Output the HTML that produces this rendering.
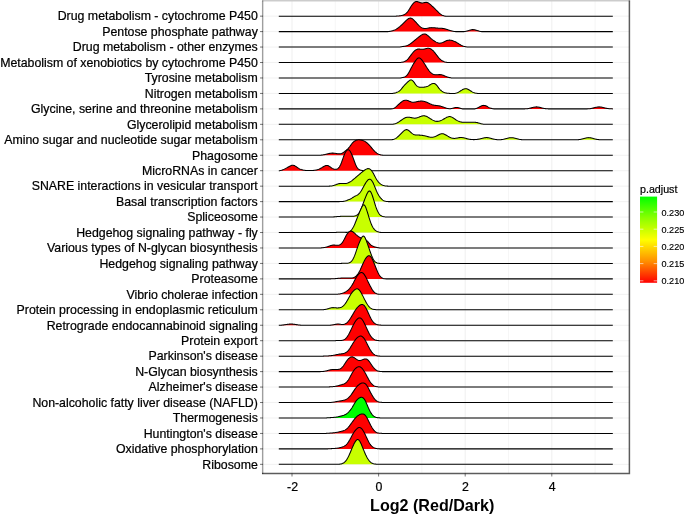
<!DOCTYPE html>
<html><head><meta charset="utf-8"><title>Ridgeplot</title>
<style>html,body{margin:0;padding:0;background:#fff;}body{width:685px;height:516px;overflow:hidden;font-family:"Liberation Sans",sans-serif;}svg{display:block;}</style></head>
<body>
<svg width="685" height="516" viewBox="0 0 685 516" style="will-change:transform">
<rect x="0" y="0" width="685" height="516" fill="#fff"/>
<path d="M263.0 16.15H629.5M263.0 31.6H629.5M263.0 47.06H629.5M263.0 62.52H629.5M263.0 77.97H629.5M263.0 93.43H629.5M263.0 108.88H629.5M263.0 124.34H629.5M263.0 139.79H629.5M263.0 155.25H629.5M263.0 170.7H629.5M263.0 186.16H629.5M263.0 201.61H629.5M263.0 217.06H629.5M263.0 232.52H629.5M263.0 247.97H629.5M263.0 263.43H629.5M263.0 278.88H629.5M263.0 294.34H629.5M263.0 309.79H629.5M263.0 325.25H629.5M263.0 340.7H629.5M263.0 356.16H629.5M263.0 371.61H629.5M263.0 387.07H629.5M263.0 402.52H629.5M263.0 417.98H629.5M263.0 433.44H629.5M263.0 448.89H629.5M263.0 464.34H629.5" stroke="#EBEBEB" stroke-width="0.7" fill="none"/>
<path d="M292 1.5V473.5M378.6 1.5V473.5M465.2 1.5V473.5M551.8 1.5V473.5" stroke="#EBEBEB" stroke-width="0.8" fill="none"/>
<path d="M335.3 1.5V473.5M421.9 1.5V473.5M508.5 1.5V473.5M595.1 1.5V473.5" stroke="#EBEBEB" stroke-width="0.45" fill="none"/>
<defs><filter id="bl" x="-2%" y="-2%" width="104%" height="104%"><feGaussianBlur stdDeviation="0.4"/></filter></defs>
<g filter="url(#bl)">
<path d="M278.8 16.15L278.8 16.15 395.8 16.15 396.3 16.12 396.8 16.08 397.3 16.04 397.8 16 398.3 15.95 398.8 15.91 399.3 15.87 399.8 15.81 400.3 15.75 400.8 15.68 401.3 15.59 401.8 15.47 402.3 15.33 402.8 15.17 403.3 14.97 403.8 14.76 404.3 14.51 404.8 14.23 405.3 13.92 405.8 13.56 406.3 13.14 406.8 12.66 407.3 12.1 407.8 11.47 408.3 10.78 408.8 10.03 409.3 9.25 409.8 8.44 410.3 7.64 410.8 6.83 411.3 6.06 411.8 5.31 412.3 4.61 412.8 3.96 413.3 3.37 413.8 2.86 414.3 2.42 414.8 2.07 415.3 1.81 415.8 1.64 416.3 1.55 416.8 1.55 417.3 1.62 417.8 1.74 418.3 1.91 418.8 2.09 419.3 2.28 419.8 2.46 420.3 2.63 420.8 2.76 421.3 2.87 421.8 2.93 422.3 2.95 422.8 2.92 423.3 2.84 423.8 2.74 424.3 2.62 424.8 2.5 425.3 2.4 425.8 2.35 426.3 2.35 426.8 2.42 427.3 2.55 427.8 2.75 428.3 3.01 428.8 3.32 429.3 3.67 429.8 4.05 430.3 4.46 430.8 4.89 431.3 5.33 431.8 5.79 432.3 6.27 432.8 6.75 433.3 7.24 433.8 7.74 434.3 8.24 434.8 8.74 435.3 9.24 435.8 9.75 436.3 10.24 436.8 10.74 437.3 11.23 437.8 11.71 438.3 12.18 438.8 12.63 439.3 13.08 439.8 13.5 440.3 13.9 440.8 14.28 441.3 14.62 441.8 14.93 442.3 15.19 442.8 15.42 443.3 15.61 443.8 15.77 444.3 15.91 444.8 16.03 445.3 16.13 445.8 16.15 612.8 16.15L612.8 16.15Z" fill="#FF0000"/>
<path d="M278.8 16.15 395.8 16.15 396.3 16.12 396.8 16.08 397.3 16.04 397.8 16 398.3 15.95 398.8 15.91 399.3 15.87 399.8 15.81 400.3 15.75 400.8 15.68 401.3 15.59 401.8 15.47 402.3 15.33 402.8 15.17 403.3 14.97 403.8 14.76 404.3 14.51 404.8 14.23 405.3 13.92 405.8 13.56 406.3 13.14 406.8 12.66 407.3 12.1 407.8 11.47 408.3 10.78 408.8 10.03 409.3 9.25 409.8 8.44 410.3 7.64 410.8 6.83 411.3 6.06 411.8 5.31 412.3 4.61 412.8 3.96 413.3 3.37 413.8 2.86 414.3 2.42 414.8 2.07 415.3 1.81 415.8 1.64 416.3 1.55 416.8 1.55 417.3 1.62 417.8 1.74 418.3 1.91 418.8 2.09 419.3 2.28 419.8 2.46 420.3 2.63 420.8 2.76 421.3 2.87 421.8 2.93 422.3 2.95 422.8 2.92 423.3 2.84 423.8 2.74 424.3 2.62 424.8 2.5 425.3 2.4 425.8 2.35 426.3 2.35 426.8 2.42 427.3 2.55 427.8 2.75 428.3 3.01 428.8 3.32 429.3 3.67 429.8 4.05 430.3 4.46 430.8 4.89 431.3 5.33 431.8 5.79 432.3 6.27 432.8 6.75 433.3 7.24 433.8 7.74 434.3 8.24 434.8 8.74 435.3 9.24 435.8 9.75 436.3 10.24 436.8 10.74 437.3 11.23 437.8 11.71 438.3 12.18 438.8 12.63 439.3 13.08 439.8 13.5 440.3 13.9 440.8 14.28 441.3 14.62 441.8 14.93 442.3 15.19 442.8 15.42 443.3 15.61 443.8 15.77 444.3 15.91 444.8 16.03 445.3 16.13 445.8 16.15 612.8 16.15" fill="none" stroke="#000" stroke-width="1.05" stroke-linejoin="round"/>
<path d="M278.8 31.6L278.8 31.6 388.3 31.6 388.8 31.55 389.3 31.47 389.8 31.38 390.3 31.29 390.8 31.2 391.3 31.09 391.8 30.97 392.3 30.83 392.8 30.68 393.3 30.52 393.8 30.33 394.3 30.13 394.8 29.9 395.3 29.66 395.8 29.39 396.3 29.1 396.8 28.79 397.3 28.47 397.8 28.12 398.3 27.76 398.8 27.38 399.3 26.98 399.8 26.57 400.3 26.14 400.8 25.7 401.3 25.24 401.8 24.78 402.3 24.3 402.8 23.81 403.3 23.32 403.8 22.82 404.3 22.32 404.8 21.83 405.3 21.34 405.8 20.86 406.3 20.39 406.8 19.95 407.3 19.53 407.8 19.14 408.3 18.8 408.8 18.52 409.3 18.3 409.8 18.16 410.3 18.11 410.8 18.14 411.3 18.27 411.8 18.48 412.3 18.77 412.8 19.13 413.3 19.54 413.8 20 414.3 20.5 414.8 21.03 415.3 21.57 415.8 22.13 416.3 22.7 416.8 23.27 417.3 23.83 417.8 24.37 418.3 24.9 418.8 25.4 419.3 25.87 419.8 26.31 420.3 26.71 420.8 27.07 421.3 27.4 421.8 27.68 422.3 27.92 422.8 28.12 423.3 28.28 423.8 28.39 424.3 28.45 424.8 28.49 425.3 28.48 425.8 28.45 426.3 28.4 426.8 28.33 427.3 28.24 427.8 28.15 428.3 28.05 428.8 27.95 429.3 27.86 429.8 27.78 430.3 27.72 430.8 27.67 431.3 27.65 431.8 27.64 432.3 27.65 432.8 27.67 433.3 27.7 433.8 27.74 434.3 27.79 434.8 27.84 435.3 27.89 435.8 27.95 436.3 28 436.8 28.05 437.3 28.09 437.8 28.13 438.3 28.16 438.8 28.19 439.3 28.21 439.8 28.23 440.3 28.25 440.8 28.27 441.3 28.3 441.8 28.34 442.3 28.38 442.8 28.43 443.3 28.5 443.8 28.59 444.3 28.69 444.8 28.8 445.3 28.94 445.8 29.08 446.3 29.24 446.8 29.41 447.3 29.58 447.8 29.76 448.3 29.93 448.8 30.1 449.3 30.27 449.8 30.43 450.3 30.58 450.8 30.72 451.3 30.85 451.8 30.98 452.3 31.1 452.8 31.21 453.3 31.31 453.8 31.41 454.3 31.49 454.8 31.58 455.3 31.6 464.3 31.6 464.8 31.53 465.3 31.43 465.8 31.31 466.3 31.19 466.8 31.06 467.3 30.92 467.8 30.78 468.3 30.63 468.8 30.48 469.3 30.33 469.8 30.18 470.3 30.04 470.8 29.91 471.3 29.79 471.8 29.7 472.3 29.64 472.8 29.61 473.3 29.63 473.8 29.67 474.3 29.75 474.8 29.86 475.3 29.99 475.8 30.13 476.3 30.27 476.8 30.42 477.3 30.57 477.8 30.72 478.3 30.86 478.8 31.01 479.3 31.15 479.8 31.3 480.3 31.44 480.8 31.58 481.3 31.6 612.8 31.6L612.8 31.6Z" fill="#FF0000"/>
<path d="M278.8 31.6 388.3 31.6 388.8 31.55 389.3 31.47 389.8 31.38 390.3 31.29 390.8 31.2 391.3 31.09 391.8 30.97 392.3 30.83 392.8 30.68 393.3 30.52 393.8 30.33 394.3 30.13 394.8 29.9 395.3 29.66 395.8 29.39 396.3 29.1 396.8 28.79 397.3 28.47 397.8 28.12 398.3 27.76 398.8 27.38 399.3 26.98 399.8 26.57 400.3 26.14 400.8 25.7 401.3 25.24 401.8 24.78 402.3 24.3 402.8 23.81 403.3 23.32 403.8 22.82 404.3 22.32 404.8 21.83 405.3 21.34 405.8 20.86 406.3 20.39 406.8 19.95 407.3 19.53 407.8 19.14 408.3 18.8 408.8 18.52 409.3 18.3 409.8 18.16 410.3 18.11 410.8 18.14 411.3 18.27 411.8 18.48 412.3 18.77 412.8 19.13 413.3 19.54 413.8 20 414.3 20.5 414.8 21.03 415.3 21.57 415.8 22.13 416.3 22.7 416.8 23.27 417.3 23.83 417.8 24.37 418.3 24.9 418.8 25.4 419.3 25.87 419.8 26.31 420.3 26.71 420.8 27.07 421.3 27.4 421.8 27.68 422.3 27.92 422.8 28.12 423.3 28.28 423.8 28.39 424.3 28.45 424.8 28.49 425.3 28.48 425.8 28.45 426.3 28.4 426.8 28.33 427.3 28.24 427.8 28.15 428.3 28.05 428.8 27.95 429.3 27.86 429.8 27.78 430.3 27.72 430.8 27.67 431.3 27.65 431.8 27.64 432.3 27.65 432.8 27.67 433.3 27.7 433.8 27.74 434.3 27.79 434.8 27.84 435.3 27.89 435.8 27.95 436.3 28 436.8 28.05 437.3 28.09 437.8 28.13 438.3 28.16 438.8 28.19 439.3 28.21 439.8 28.23 440.3 28.25 440.8 28.27 441.3 28.3 441.8 28.34 442.3 28.38 442.8 28.43 443.3 28.5 443.8 28.59 444.3 28.69 444.8 28.8 445.3 28.94 445.8 29.08 446.3 29.24 446.8 29.41 447.3 29.58 447.8 29.76 448.3 29.93 448.8 30.1 449.3 30.27 449.8 30.43 450.3 30.58 450.8 30.72 451.3 30.85 451.8 30.98 452.3 31.1 452.8 31.21 453.3 31.31 453.8 31.41 454.3 31.49 454.8 31.58 455.3 31.6 464.3 31.6 464.8 31.53 465.3 31.43 465.8 31.31 466.3 31.19 466.8 31.06 467.3 30.92 467.8 30.78 468.3 30.63 468.8 30.48 469.3 30.33 469.8 30.18 470.3 30.04 470.8 29.91 471.3 29.79 471.8 29.7 472.3 29.64 472.8 29.61 473.3 29.63 473.8 29.67 474.3 29.75 474.8 29.86 475.3 29.99 475.8 30.13 476.3 30.27 476.8 30.42 477.3 30.57 477.8 30.72 478.3 30.86 478.8 31.01 479.3 31.15 479.8 31.3 480.3 31.44 480.8 31.58 481.3 31.6 612.8 31.6" fill="none" stroke="#000" stroke-width="1.05" stroke-linejoin="round"/>
<path d="M278.8 47.06L278.8 47.06 399.3 47.06 399.8 46.99 400.3 46.9 400.8 46.82 401.3 46.74 401.8 46.66 402.3 46.58 402.8 46.5 403.3 46.43 403.8 46.36 404.3 46.28 404.8 46.19 405.3 46.09 405.8 45.97 406.3 45.83 406.8 45.67 407.3 45.48 407.8 45.26 408.3 45.02 408.8 44.75 409.3 44.45 409.8 44.14 410.3 43.81 410.8 43.46 411.3 43.09 411.8 42.71 412.3 42.32 412.8 41.92 413.3 41.52 413.8 41.11 414.3 40.69 414.8 40.28 415.3 39.86 415.8 39.45 416.3 39.03 416.8 38.62 417.3 38.21 417.8 37.8 418.3 37.4 418.8 37.01 419.3 36.61 419.8 36.23 420.3 35.86 420.8 35.5 421.3 35.16 421.8 34.85 422.3 34.58 422.8 34.35 423.3 34.17 423.8 34.04 424.3 33.99 424.8 34 425.3 34.1 425.8 34.26 426.3 34.51 426.8 34.81 427.3 35.17 427.8 35.57 428.3 36 428.8 36.46 429.3 36.93 429.8 37.4 430.3 37.86 430.8 38.31 431.3 38.74 431.8 39.15 432.3 39.55 432.8 39.93 433.3 40.29 433.8 40.63 434.3 40.96 434.8 41.28 435.3 41.58 435.8 41.87 436.3 42.14 436.8 42.39 437.3 42.61 437.8 42.8 438.3 42.95 438.8 43.06 439.3 43.13 439.8 43.15 440.3 43.13 440.8 43.06 441.3 42.94 441.8 42.8 442.3 42.62 442.8 42.42 443.3 42.19 443.8 41.96 444.3 41.72 444.8 41.48 445.3 41.24 445.8 41.01 446.3 40.8 446.8 40.61 447.3 40.44 447.8 40.31 448.3 40.21 448.8 40.15 449.3 40.13 449.8 40.14 450.3 40.18 450.8 40.25 451.3 40.35 451.8 40.47 452.3 40.62 452.8 40.78 453.3 40.96 453.8 41.16 454.3 41.37 454.8 41.59 455.3 41.82 455.8 42.07 456.3 42.33 456.8 42.61 457.3 42.9 457.8 43.21 458.3 43.52 458.8 43.84 459.3 44.16 459.8 44.47 460.3 44.77 460.8 45.06 461.3 45.32 461.8 45.56 462.3 45.77 462.8 45.97 463.3 46.14 463.8 46.3 464.3 46.43 464.8 46.55 465.3 46.66 465.8 46.75 466.3 46.84 466.8 46.91 467.3 46.98 467.8 47.05 468.3 47.06 612.8 47.06L612.8 47.06Z" fill="#FF0000"/>
<path d="M278.8 47.06 399.3 47.06 399.8 46.99 400.3 46.9 400.8 46.82 401.3 46.74 401.8 46.66 402.3 46.58 402.8 46.5 403.3 46.43 403.8 46.36 404.3 46.28 404.8 46.19 405.3 46.09 405.8 45.97 406.3 45.83 406.8 45.67 407.3 45.48 407.8 45.26 408.3 45.02 408.8 44.75 409.3 44.45 409.8 44.14 410.3 43.81 410.8 43.46 411.3 43.09 411.8 42.71 412.3 42.32 412.8 41.92 413.3 41.52 413.8 41.11 414.3 40.69 414.8 40.28 415.3 39.86 415.8 39.45 416.3 39.03 416.8 38.62 417.3 38.21 417.8 37.8 418.3 37.4 418.8 37.01 419.3 36.61 419.8 36.23 420.3 35.86 420.8 35.5 421.3 35.16 421.8 34.85 422.3 34.58 422.8 34.35 423.3 34.17 423.8 34.04 424.3 33.99 424.8 34 425.3 34.1 425.8 34.26 426.3 34.51 426.8 34.81 427.3 35.17 427.8 35.57 428.3 36 428.8 36.46 429.3 36.93 429.8 37.4 430.3 37.86 430.8 38.31 431.3 38.74 431.8 39.15 432.3 39.55 432.8 39.93 433.3 40.29 433.8 40.63 434.3 40.96 434.8 41.28 435.3 41.58 435.8 41.87 436.3 42.14 436.8 42.39 437.3 42.61 437.8 42.8 438.3 42.95 438.8 43.06 439.3 43.13 439.8 43.15 440.3 43.13 440.8 43.06 441.3 42.94 441.8 42.8 442.3 42.62 442.8 42.42 443.3 42.19 443.8 41.96 444.3 41.72 444.8 41.48 445.3 41.24 445.8 41.01 446.3 40.8 446.8 40.61 447.3 40.44 447.8 40.31 448.3 40.21 448.8 40.15 449.3 40.13 449.8 40.14 450.3 40.18 450.8 40.25 451.3 40.35 451.8 40.47 452.3 40.62 452.8 40.78 453.3 40.96 453.8 41.16 454.3 41.37 454.8 41.59 455.3 41.82 455.8 42.07 456.3 42.33 456.8 42.61 457.3 42.9 457.8 43.21 458.3 43.52 458.8 43.84 459.3 44.16 459.8 44.47 460.3 44.77 460.8 45.06 461.3 45.32 461.8 45.56 462.3 45.77 462.8 45.97 463.3 46.14 463.8 46.3 464.3 46.43 464.8 46.55 465.3 46.66 465.8 46.75 466.3 46.84 466.8 46.91 467.3 46.98 467.8 47.05 468.3 47.06 612.8 47.06" fill="none" stroke="#000" stroke-width="1.05" stroke-linejoin="round"/>
<path d="M278.8 62.52L278.8 62.52 400.3 62.52 400.8 62.44 401.3 62.35 401.8 62.25 402.3 62.14 402.8 62.02 403.3 61.89 403.8 61.73 404.3 61.55 404.8 61.34 405.3 61.1 405.8 60.8 406.3 60.46 406.8 60.07 407.3 59.62 407.8 59.11 408.3 58.56 408.8 57.96 409.3 57.33 409.8 56.68 410.3 56.01 410.8 55.34 411.3 54.67 411.8 54.02 412.3 53.38 412.8 52.77 413.3 52.19 413.8 51.65 414.3 51.15 414.8 50.69 415.3 50.28 415.8 49.93 416.3 49.63 416.8 49.4 417.3 49.23 417.8 49.12 418.3 49.07 418.8 49.05 419.3 49.07 419.8 49.12 420.3 49.17 420.8 49.23 421.3 49.28 421.8 49.3 422.3 49.3 422.8 49.27 423.3 49.21 423.8 49.12 424.3 49.01 424.8 48.89 425.3 48.77 425.8 48.64 426.3 48.53 426.8 48.43 427.3 48.35 427.8 48.31 428.3 48.3 428.8 48.34 429.3 48.42 429.8 48.56 430.3 48.75 430.8 49 431.3 49.3 431.8 49.65 432.3 50.04 432.8 50.49 433.3 50.98 433.8 51.51 434.3 52.08 434.8 52.68 435.3 53.31 435.8 53.96 436.3 54.61 436.8 55.27 437.3 55.92 437.8 56.55 438.3 57.16 438.8 57.74 439.3 58.28 439.8 58.79 440.3 59.26 440.8 59.69 441.3 60.09 441.8 60.46 442.3 60.79 442.8 61.09 443.3 61.35 443.8 61.58 444.3 61.78 444.8 61.94 445.3 62.08 445.8 62.2 446.3 62.29 446.8 62.37 447.3 62.44 447.8 62.51 612.8 62.52L612.8 62.52Z" fill="#FF0000"/>
<path d="M278.8 62.52 400.3 62.52 400.8 62.44 401.3 62.35 401.8 62.25 402.3 62.14 402.8 62.02 403.3 61.89 403.8 61.73 404.3 61.55 404.8 61.34 405.3 61.1 405.8 60.8 406.3 60.46 406.8 60.07 407.3 59.62 407.8 59.11 408.3 58.56 408.8 57.96 409.3 57.33 409.8 56.68 410.3 56.01 410.8 55.34 411.3 54.67 411.8 54.02 412.3 53.38 412.8 52.77 413.3 52.19 413.8 51.65 414.3 51.15 414.8 50.69 415.3 50.28 415.8 49.93 416.3 49.63 416.8 49.4 417.3 49.23 417.8 49.12 418.3 49.07 418.8 49.05 419.3 49.07 419.8 49.12 420.3 49.17 420.8 49.23 421.3 49.28 421.8 49.3 422.3 49.3 422.8 49.27 423.3 49.21 423.8 49.12 424.3 49.01 424.8 48.89 425.3 48.77 425.8 48.64 426.3 48.53 426.8 48.43 427.3 48.35 427.8 48.31 428.3 48.3 428.8 48.34 429.3 48.42 429.8 48.56 430.3 48.75 430.8 49 431.3 49.3 431.8 49.65 432.3 50.04 432.8 50.49 433.3 50.98 433.8 51.51 434.3 52.08 434.8 52.68 435.3 53.31 435.8 53.96 436.3 54.61 436.8 55.27 437.3 55.92 437.8 56.55 438.3 57.16 438.8 57.74 439.3 58.28 439.8 58.79 440.3 59.26 440.8 59.69 441.3 60.09 441.8 60.46 442.3 60.79 442.8 61.09 443.3 61.35 443.8 61.58 444.3 61.78 444.8 61.94 445.3 62.08 445.8 62.2 446.3 62.29 446.8 62.37 447.3 62.44 447.8 62.51 612.8 62.52" fill="none" stroke="#000" stroke-width="1.05" stroke-linejoin="round"/>
<path d="M278.8 77.97L278.8 77.97 400.3 77.97 400.8 77.89 401.3 77.79 401.8 77.7 402.3 77.6 402.8 77.49 403.3 77.38 403.8 77.25 404.3 77.08 404.8 76.88 405.3 76.62 405.8 76.29 406.3 75.89 406.8 75.39 407.3 74.81 407.8 74.13 408.3 73.37 408.8 72.53 409.3 71.64 409.8 70.71 410.3 69.75 410.8 68.79 411.3 67.82 411.8 66.88 412.3 65.96 412.8 65.07 413.3 64.22 413.8 63.39 414.3 62.6 414.8 61.84 415.3 61.1 415.8 60.4 416.3 59.75 416.8 59.16 417.3 58.66 417.8 58.27 418.3 58.01 418.8 57.9 419.3 57.93 419.8 58.11 420.3 58.42 420.8 58.84 421.3 59.35 421.8 59.93 422.3 60.57 422.8 61.25 423.3 61.97 423.8 62.72 424.3 63.5 424.8 64.29 425.3 65.08 425.8 65.88 426.3 66.67 426.8 67.46 427.3 68.22 427.8 68.96 428.3 69.67 428.8 70.34 429.3 70.97 429.8 71.55 430.3 72.08 430.8 72.57 431.3 73 431.8 73.38 432.3 73.72 432.8 74.01 433.3 74.24 433.8 74.43 434.3 74.58 434.8 74.68 435.3 74.74 435.8 74.77 436.3 74.77 436.8 74.76 437.3 74.73 437.8 74.69 438.3 74.66 438.8 74.62 439.3 74.6 439.8 74.6 440.3 74.62 440.8 74.66 441.3 74.74 441.8 74.85 442.3 74.99 442.8 75.15 443.3 75.33 443.8 75.53 444.3 75.74 444.8 75.95 445.3 76.16 445.8 76.37 446.3 76.58 446.8 76.77 447.3 76.94 447.8 77.1 448.3 77.25 448.8 77.39 449.3 77.51 449.8 77.63 450.3 77.74 450.8 77.85 451.3 77.95 451.8 77.97 612.8 77.97L612.8 77.97Z" fill="#FF0000"/>
<path d="M278.8 77.97 400.3 77.97 400.8 77.89 401.3 77.79 401.8 77.7 402.3 77.6 402.8 77.49 403.3 77.38 403.8 77.25 404.3 77.08 404.8 76.88 405.3 76.62 405.8 76.29 406.3 75.89 406.8 75.39 407.3 74.81 407.8 74.13 408.3 73.37 408.8 72.53 409.3 71.64 409.8 70.71 410.3 69.75 410.8 68.79 411.3 67.82 411.8 66.88 412.3 65.96 412.8 65.07 413.3 64.22 413.8 63.39 414.3 62.6 414.8 61.84 415.3 61.1 415.8 60.4 416.3 59.75 416.8 59.16 417.3 58.66 417.8 58.27 418.3 58.01 418.8 57.9 419.3 57.93 419.8 58.11 420.3 58.42 420.8 58.84 421.3 59.35 421.8 59.93 422.3 60.57 422.8 61.25 423.3 61.97 423.8 62.72 424.3 63.5 424.8 64.29 425.3 65.08 425.8 65.88 426.3 66.67 426.8 67.46 427.3 68.22 427.8 68.96 428.3 69.67 428.8 70.34 429.3 70.97 429.8 71.55 430.3 72.08 430.8 72.57 431.3 73 431.8 73.38 432.3 73.72 432.8 74.01 433.3 74.24 433.8 74.43 434.3 74.58 434.8 74.68 435.3 74.74 435.8 74.77 436.3 74.77 436.8 74.76 437.3 74.73 437.8 74.69 438.3 74.66 438.8 74.62 439.3 74.6 439.8 74.6 440.3 74.62 440.8 74.66 441.3 74.74 441.8 74.85 442.3 74.99 442.8 75.15 443.3 75.33 443.8 75.53 444.3 75.74 444.8 75.95 445.3 76.16 445.8 76.37 446.3 76.58 446.8 76.77 447.3 76.94 447.8 77.1 448.3 77.25 448.8 77.39 449.3 77.51 449.8 77.63 450.3 77.74 450.8 77.85 451.3 77.95 451.8 77.97 612.8 77.97" fill="none" stroke="#000" stroke-width="1.05" stroke-linejoin="round"/>
<path d="M278.8 93.43L278.8 93.43 391.8 93.43 392.3 93.4 392.8 93.36 393.3 93.3 393.8 93.23 394.3 93.14 394.8 93.02 395.3 92.89 395.8 92.73 396.3 92.55 396.8 92.35 397.3 92.14 397.8 91.91 398.3 91.64 398.8 91.34 399.3 90.99 399.8 90.58 400.3 90.12 400.8 89.6 401.3 89.03 401.8 88.43 402.3 87.81 402.8 87.2 403.3 86.59 403.8 86.01 404.3 85.46 404.8 84.93 405.3 84.42 405.8 83.92 406.3 83.42 406.8 82.93 407.3 82.44 407.8 81.97 408.3 81.5 408.8 81.06 409.3 80.67 409.8 80.34 410.3 80.09 410.8 79.96 411.3 79.96 411.8 80.1 412.3 80.38 412.8 80.79 413.3 81.32 413.8 81.95 414.3 82.64 414.8 83.37 415.3 84.09 415.8 84.77 416.3 85.38 416.8 85.9 417.3 86.32 417.8 86.64 418.3 86.87 418.8 87.03 419.3 87.14 419.8 87.2 420.3 87.23 420.8 87.23 421.3 87.23 421.8 87.23 422.3 87.22 422.8 87.21 423.3 87.19 423.8 87.16 424.3 87.11 424.8 87.05 425.3 86.97 425.8 86.86 426.3 86.73 426.8 86.58 427.3 86.39 427.8 86.17 428.3 85.91 428.8 85.63 429.3 85.32 429.8 85 430.3 84.68 430.8 84.38 431.3 84.09 431.8 83.85 432.3 83.64 432.8 83.5 433.3 83.42 433.8 83.42 434.3 83.51 434.8 83.69 435.3 83.98 435.8 84.36 436.3 84.84 436.8 85.41 437.3 86.05 437.8 86.72 438.3 87.4 438.8 88.06 439.3 88.68 439.8 89.26 440.3 89.78 440.8 90.26 441.3 90.69 441.8 91.09 442.3 91.44 442.8 91.75 443.3 92.03 443.8 92.27 444.3 92.49 444.8 92.67 445.3 92.82 445.8 92.95 446.3 93.05 446.8 93.14 447.3 93.21 447.8 93.26 448.3 93.31 448.8 93.34 449.3 93.37 449.8 93.4 450.3 93.43 454.3 93.43 454.8 93.41 455.3 93.32 455.8 93.21 456.3 93.06 456.8 92.88 457.3 92.67 457.8 92.44 458.3 92.19 458.8 91.92 459.3 91.63 459.8 91.33 460.3 91.03 460.8 90.72 461.3 90.42 461.8 90.12 462.3 89.83 462.8 89.56 463.3 89.32 463.8 89.11 464.3 88.94 464.8 88.81 465.3 88.74 465.8 88.72 466.3 88.76 466.8 88.86 467.3 89.02 467.8 89.22 468.3 89.47 468.8 89.75 469.3 90.05 469.8 90.36 470.3 90.69 470.8 91.01 471.3 91.32 471.8 91.62 472.3 91.9 472.8 92.16 473.3 92.4 473.8 92.61 474.3 92.8 474.8 92.96 475.3 93.1 475.8 93.2 476.3 93.28 476.8 93.34 477.3 93.38 477.8 93.4 478.3 93.42 612.8 93.43L612.8 93.43Z" fill="#C8FF00"/>
<path d="M278.8 93.43 391.8 93.43 392.3 93.4 392.8 93.36 393.3 93.3 393.8 93.23 394.3 93.14 394.8 93.02 395.3 92.89 395.8 92.73 396.3 92.55 396.8 92.35 397.3 92.14 397.8 91.91 398.3 91.64 398.8 91.34 399.3 90.99 399.8 90.58 400.3 90.12 400.8 89.6 401.3 89.03 401.8 88.43 402.3 87.81 402.8 87.2 403.3 86.59 403.8 86.01 404.3 85.46 404.8 84.93 405.3 84.42 405.8 83.92 406.3 83.42 406.8 82.93 407.3 82.44 407.8 81.97 408.3 81.5 408.8 81.06 409.3 80.67 409.8 80.34 410.3 80.09 410.8 79.96 411.3 79.96 411.8 80.1 412.3 80.38 412.8 80.79 413.3 81.32 413.8 81.95 414.3 82.64 414.8 83.37 415.3 84.09 415.8 84.77 416.3 85.38 416.8 85.9 417.3 86.32 417.8 86.64 418.3 86.87 418.8 87.03 419.3 87.14 419.8 87.2 420.3 87.23 420.8 87.23 421.3 87.23 421.8 87.23 422.3 87.22 422.8 87.21 423.3 87.19 423.8 87.16 424.3 87.11 424.8 87.05 425.3 86.97 425.8 86.86 426.3 86.73 426.8 86.58 427.3 86.39 427.8 86.17 428.3 85.91 428.8 85.63 429.3 85.32 429.8 85 430.3 84.68 430.8 84.38 431.3 84.09 431.8 83.85 432.3 83.64 432.8 83.5 433.3 83.42 433.8 83.42 434.3 83.51 434.8 83.69 435.3 83.98 435.8 84.36 436.3 84.84 436.8 85.41 437.3 86.05 437.8 86.72 438.3 87.4 438.8 88.06 439.3 88.68 439.8 89.26 440.3 89.78 440.8 90.26 441.3 90.69 441.8 91.09 442.3 91.44 442.8 91.75 443.3 92.03 443.8 92.27 444.3 92.49 444.8 92.67 445.3 92.82 445.8 92.95 446.3 93.05 446.8 93.14 447.3 93.21 447.8 93.26 448.3 93.31 448.8 93.34 449.3 93.37 449.8 93.4 450.3 93.43 454.3 93.43 454.8 93.41 455.3 93.32 455.8 93.21 456.3 93.06 456.8 92.88 457.3 92.67 457.8 92.44 458.3 92.19 458.8 91.92 459.3 91.63 459.8 91.33 460.3 91.03 460.8 90.72 461.3 90.42 461.8 90.12 462.3 89.83 462.8 89.56 463.3 89.32 463.8 89.11 464.3 88.94 464.8 88.81 465.3 88.74 465.8 88.72 466.3 88.76 466.8 88.86 467.3 89.02 467.8 89.22 468.3 89.47 468.8 89.75 469.3 90.05 469.8 90.36 470.3 90.69 470.8 91.01 471.3 91.32 471.8 91.62 472.3 91.9 472.8 92.16 473.3 92.4 473.8 92.61 474.3 92.8 474.8 92.96 475.3 93.1 475.8 93.2 476.3 93.28 476.8 93.34 477.3 93.38 477.8 93.4 478.3 93.42 612.8 93.43" fill="none" stroke="#000" stroke-width="1.05" stroke-linejoin="round"/>
<path d="M278.8 108.88L278.8 108.88 390.8 108.88 391.3 108.86 391.8 108.82 392.3 108.76 392.8 108.65 393.3 108.5 393.8 108.3 394.3 108.04 394.8 107.72 395.3 107.36 395.8 106.97 396.3 106.55 396.8 106.1 397.3 105.65 397.8 105.18 398.3 104.71 398.8 104.25 399.3 103.78 399.8 103.33 400.3 102.89 400.8 102.48 401.3 102.08 401.8 101.71 402.3 101.38 402.8 101.07 403.3 100.81 403.8 100.59 404.3 100.41 404.8 100.28 405.3 100.21 405.8 100.19 406.3 100.22 406.8 100.3 407.3 100.42 407.8 100.58 408.3 100.77 408.8 100.98 409.3 101.19 409.8 101.4 410.3 101.6 410.8 101.79 411.3 101.95 411.8 102.07 412.3 102.16 412.8 102.21 413.3 102.22 413.8 102.2 414.3 102.16 414.8 102.09 415.3 102.01 415.8 101.91 416.3 101.8 416.8 101.69 417.3 101.58 417.8 101.47 418.3 101.37 418.8 101.28 419.3 101.21 419.8 101.15 420.3 101.11 420.8 101.09 421.3 101.08 421.8 101.1 422.3 101.13 422.8 101.18 423.3 101.25 423.8 101.34 424.3 101.44 424.8 101.57 425.3 101.72 425.8 101.88 426.3 102.07 426.8 102.27 427.3 102.49 427.8 102.71 428.3 102.95 428.8 103.19 429.3 103.43 429.8 103.67 430.3 103.9 430.8 104.13 431.3 104.34 431.8 104.54 432.3 104.72 432.8 104.88 433.3 105.01 433.8 105.13 434.3 105.23 434.8 105.31 435.3 105.38 435.8 105.44 436.3 105.49 436.8 105.55 437.3 105.6 437.8 105.66 438.3 105.72 438.8 105.79 439.3 105.88 439.8 105.98 440.3 106.1 440.8 106.24 441.3 106.39 441.8 106.55 442.3 106.73 442.8 106.9 443.3 107.09 443.8 107.27 444.3 107.46 444.8 107.64 445.3 107.81 445.8 107.98 446.3 108.14 446.8 108.28 447.3 108.41 447.8 108.52 448.3 108.6 448.8 108.67 449.3 108.7 449.8 108.71 450.3 108.68 450.8 108.63 451.3 108.54 451.8 108.43 452.3 108.31 452.8 108.17 453.3 108.03 453.8 107.89 454.3 107.77 454.8 107.65 455.3 107.57 455.8 107.51 456.3 107.48 456.8 107.49 457.3 107.53 457.8 107.6 458.3 107.7 458.8 107.82 459.3 107.95 459.8 108.1 460.3 108.25 460.8 108.41 461.3 108.57 461.8 108.72 462.3 108.86 462.8 108.88 474.8 108.88 475.3 108.78 475.8 108.62 476.3 108.45 476.8 108.26 477.3 108.06 477.8 107.83 478.3 107.58 478.8 107.32 479.3 107.03 479.8 106.74 480.3 106.45 480.8 106.18 481.3 105.94 481.8 105.74 482.3 105.58 482.8 105.46 483.3 105.4 483.8 105.38 484.3 105.42 484.8 105.5 485.3 105.63 485.8 105.81 486.3 106.04 486.8 106.29 487.3 106.57 487.8 106.87 488.3 107.15 488.8 107.42 489.3 107.66 489.8 107.88 490.3 108.07 490.8 108.23 491.3 108.37 491.8 108.5 492.3 108.61 492.8 108.7 493.3 108.79 493.8 108.87 494.3 108.88 524.3 108.88 524.8 108.86 525.3 108.83 525.8 108.8 526.3 108.77 526.8 108.73 527.3 108.68 527.8 108.62 528.3 108.54 528.8 108.46 529.3 108.36 529.8 108.25 530.3 108.13 530.8 108 531.3 107.87 531.8 107.74 532.3 107.61 532.8 107.48 533.3 107.36 533.8 107.24 534.3 107.14 534.8 107.05 535.3 106.97 535.8 106.92 536.3 106.89 536.8 106.89 537.3 106.93 537.8 106.98 538.3 107.06 538.8 107.16 539.3 107.26 539.8 107.38 540.3 107.5 540.8 107.63 541.3 107.76 541.8 107.89 542.3 108.02 542.8 108.15 543.3 108.27 543.8 108.38 544.3 108.47 544.8 108.56 545.3 108.63 545.8 108.69 546.3 108.74 546.8 108.78 547.3 108.82 547.8 108.85 548.3 108.88 586.8 108.88 587.3 108.86 587.8 108.84 588.3 108.81 588.8 108.77 589.3 108.73 589.8 108.68 590.3 108.62 590.8 108.54 591.3 108.46 591.8 108.36 592.3 108.25 592.8 108.13 593.3 108 593.8 107.87 594.3 107.74 594.8 107.61 595.3 107.48 595.8 107.35 596.3 107.24 596.8 107.14 597.3 107.05 597.8 106.97 598.3 106.92 598.8 106.89 599.3 106.88 599.8 106.9 600.3 106.94 600.8 107 601.3 107.08 601.8 107.19 602.3 107.3 602.8 107.42 603.3 107.55 603.8 107.68 604.3 107.81 604.8 107.94 605.3 108.06 605.8 108.17 606.3 108.28 606.8 108.37 607.3 108.46 607.8 108.54 608.3 108.6 608.8 108.66 609.3 108.71 609.8 108.75 610.3 108.78 610.8 108.81 611.3 108.83 611.8 108.85 612.3 108.86 612.8 108.87L612.8 108.88Z" fill="#FF0000"/>
<path d="M278.8 108.88 390.8 108.88 391.3 108.86 391.8 108.82 392.3 108.76 392.8 108.65 393.3 108.5 393.8 108.3 394.3 108.04 394.8 107.72 395.3 107.36 395.8 106.97 396.3 106.55 396.8 106.1 397.3 105.65 397.8 105.18 398.3 104.71 398.8 104.25 399.3 103.78 399.8 103.33 400.3 102.89 400.8 102.48 401.3 102.08 401.8 101.71 402.3 101.38 402.8 101.07 403.3 100.81 403.8 100.59 404.3 100.41 404.8 100.28 405.3 100.21 405.8 100.19 406.3 100.22 406.8 100.3 407.3 100.42 407.8 100.58 408.3 100.77 408.8 100.98 409.3 101.19 409.8 101.4 410.3 101.6 410.8 101.79 411.3 101.95 411.8 102.07 412.3 102.16 412.8 102.21 413.3 102.22 413.8 102.2 414.3 102.16 414.8 102.09 415.3 102.01 415.8 101.91 416.3 101.8 416.8 101.69 417.3 101.58 417.8 101.47 418.3 101.37 418.8 101.28 419.3 101.21 419.8 101.15 420.3 101.11 420.8 101.09 421.3 101.08 421.8 101.1 422.3 101.13 422.8 101.18 423.3 101.25 423.8 101.34 424.3 101.44 424.8 101.57 425.3 101.72 425.8 101.88 426.3 102.07 426.8 102.27 427.3 102.49 427.8 102.71 428.3 102.95 428.8 103.19 429.3 103.43 429.8 103.67 430.3 103.9 430.8 104.13 431.3 104.34 431.8 104.54 432.3 104.72 432.8 104.88 433.3 105.01 433.8 105.13 434.3 105.23 434.8 105.31 435.3 105.38 435.8 105.44 436.3 105.49 436.8 105.55 437.3 105.6 437.8 105.66 438.3 105.72 438.8 105.79 439.3 105.88 439.8 105.98 440.3 106.1 440.8 106.24 441.3 106.39 441.8 106.55 442.3 106.73 442.8 106.9 443.3 107.09 443.8 107.27 444.3 107.46 444.8 107.64 445.3 107.81 445.8 107.98 446.3 108.14 446.8 108.28 447.3 108.41 447.8 108.52 448.3 108.6 448.8 108.67 449.3 108.7 449.8 108.71 450.3 108.68 450.8 108.63 451.3 108.54 451.8 108.43 452.3 108.31 452.8 108.17 453.3 108.03 453.8 107.89 454.3 107.77 454.8 107.65 455.3 107.57 455.8 107.51 456.3 107.48 456.8 107.49 457.3 107.53 457.8 107.6 458.3 107.7 458.8 107.82 459.3 107.95 459.8 108.1 460.3 108.25 460.8 108.41 461.3 108.57 461.8 108.72 462.3 108.86 462.8 108.88 474.8 108.88 475.3 108.78 475.8 108.62 476.3 108.45 476.8 108.26 477.3 108.06 477.8 107.83 478.3 107.58 478.8 107.32 479.3 107.03 479.8 106.74 480.3 106.45 480.8 106.18 481.3 105.94 481.8 105.74 482.3 105.58 482.8 105.46 483.3 105.4 483.8 105.38 484.3 105.42 484.8 105.5 485.3 105.63 485.8 105.81 486.3 106.04 486.8 106.29 487.3 106.57 487.8 106.87 488.3 107.15 488.8 107.42 489.3 107.66 489.8 107.88 490.3 108.07 490.8 108.23 491.3 108.37 491.8 108.5 492.3 108.61 492.8 108.7 493.3 108.79 493.8 108.87 494.3 108.88 524.3 108.88 524.8 108.86 525.3 108.83 525.8 108.8 526.3 108.77 526.8 108.73 527.3 108.68 527.8 108.62 528.3 108.54 528.8 108.46 529.3 108.36 529.8 108.25 530.3 108.13 530.8 108 531.3 107.87 531.8 107.74 532.3 107.61 532.8 107.48 533.3 107.36 533.8 107.24 534.3 107.14 534.8 107.05 535.3 106.97 535.8 106.92 536.3 106.89 536.8 106.89 537.3 106.93 537.8 106.98 538.3 107.06 538.8 107.16 539.3 107.26 539.8 107.38 540.3 107.5 540.8 107.63 541.3 107.76 541.8 107.89 542.3 108.02 542.8 108.15 543.3 108.27 543.8 108.38 544.3 108.47 544.8 108.56 545.3 108.63 545.8 108.69 546.3 108.74 546.8 108.78 547.3 108.82 547.8 108.85 548.3 108.88 586.8 108.88 587.3 108.86 587.8 108.84 588.3 108.81 588.8 108.77 589.3 108.73 589.8 108.68 590.3 108.62 590.8 108.54 591.3 108.46 591.8 108.36 592.3 108.25 592.8 108.13 593.3 108 593.8 107.87 594.3 107.74 594.8 107.61 595.3 107.48 595.8 107.35 596.3 107.24 596.8 107.14 597.3 107.05 597.8 106.97 598.3 106.92 598.8 106.89 599.3 106.88 599.8 106.9 600.3 106.94 600.8 107 601.3 107.08 601.8 107.19 602.3 107.3 602.8 107.42 603.3 107.55 603.8 107.68 604.3 107.81 604.8 107.94 605.3 108.06 605.8 108.17 606.3 108.28 606.8 108.37 607.3 108.46 607.8 108.54 608.3 108.6 608.8 108.66 609.3 108.71 609.8 108.75 610.3 108.78 610.8 108.81 611.3 108.83 611.8 108.85 612.3 108.86 612.8 108.87" fill="none" stroke="#000" stroke-width="1.05" stroke-linejoin="round"/>
<path d="M278.8 124.34L278.8 124.34 391.3 124.34 391.8 124.3 392.3 124.25 392.8 124.19 393.3 124.13 393.8 124.04 394.3 123.94 394.8 123.82 395.3 123.66 395.8 123.49 396.3 123.28 396.8 123.05 397.3 122.79 397.8 122.51 398.3 122.21 398.8 121.9 399.3 121.58 399.8 121.24 400.3 120.9 400.8 120.55 401.3 120.2 401.8 119.85 402.3 119.51 402.8 119.17 403.3 118.86 403.8 118.55 404.3 118.27 404.8 118.01 405.3 117.78 405.8 117.58 406.3 117.42 406.8 117.3 407.3 117.21 407.8 117.17 408.3 117.16 408.8 117.19 409.3 117.24 409.8 117.31 410.3 117.41 410.8 117.51 411.3 117.62 411.8 117.73 412.3 117.84 412.8 117.94 413.3 118.03 413.8 118.09 414.3 118.14 414.8 118.15 415.3 118.13 415.8 118.07 416.3 117.98 416.8 117.87 417.3 117.72 417.8 117.56 418.3 117.38 418.8 117.19 419.3 116.99 419.8 116.8 420.3 116.61 420.8 116.42 421.3 116.25 421.8 116.1 422.3 115.98 422.8 115.88 423.3 115.82 423.8 115.79 424.3 115.81 424.8 115.87 425.3 115.98 425.8 116.13 426.3 116.33 426.8 116.55 427.3 116.81 427.8 117.09 428.3 117.39 428.8 117.7 429.3 118.02 429.8 118.35 430.3 118.67 430.8 118.99 431.3 119.3 431.8 119.6 432.3 119.88 432.8 120.15 433.3 120.4 433.8 120.62 434.3 120.82 434.8 121 435.3 121.14 435.8 121.25 436.3 121.33 436.8 121.37 437.3 121.38 437.8 121.35 438.3 121.29 438.8 121.2 439.3 121.09 439.8 120.94 440.3 120.77 440.8 120.58 441.3 120.37 441.8 120.13 442.3 119.88 442.8 119.61 443.3 119.33 443.8 119.04 444.3 118.74 444.8 118.44 445.3 118.15 445.8 117.86 446.3 117.59 446.8 117.34 447.3 117.12 447.8 116.93 448.3 116.77 448.8 116.66 449.3 116.6 449.8 116.59 450.3 116.64 450.8 116.75 451.3 116.92 451.8 117.13 452.3 117.39 452.8 117.68 453.3 118 453.8 118.34 454.3 118.69 454.8 119.05 455.3 119.4 455.8 119.74 456.3 120.06 456.8 120.36 457.3 120.63 457.8 120.89 458.3 121.12 458.8 121.32 459.3 121.51 459.8 121.67 460.3 121.81 460.8 121.93 461.3 122.03 461.8 122.11 462.3 122.17 462.8 122.2 463.3 122.23 463.8 122.24 464.3 122.24 464.8 122.24 465.3 122.24 465.8 122.23 466.3 122.23 466.8 122.23 467.3 122.23 467.8 122.23 468.3 122.23 468.8 122.23 469.3 122.23 469.8 122.23 470.3 122.23 470.8 122.23 471.3 122.23 471.8 122.23 472.3 122.23 472.8 122.23 473.3 122.23 473.8 122.24 474.3 122.26 474.8 122.28 475.3 122.31 475.8 122.36 476.3 122.43 476.8 122.52 477.3 122.63 477.8 122.75 478.3 122.9 478.8 123.05 479.3 123.2 479.8 123.35 480.3 123.5 480.8 123.64 481.3 123.77 481.8 123.89 482.3 124 482.8 124.1 483.3 124.2 483.8 124.3 484.3 124.34 612.8 124.34L612.8 124.34Z" fill="#C8FF00"/>
<path d="M278.8 124.34 391.3 124.34 391.8 124.3 392.3 124.25 392.8 124.19 393.3 124.13 393.8 124.04 394.3 123.94 394.8 123.82 395.3 123.66 395.8 123.49 396.3 123.28 396.8 123.05 397.3 122.79 397.8 122.51 398.3 122.21 398.8 121.9 399.3 121.58 399.8 121.24 400.3 120.9 400.8 120.55 401.3 120.2 401.8 119.85 402.3 119.51 402.8 119.17 403.3 118.86 403.8 118.55 404.3 118.27 404.8 118.01 405.3 117.78 405.8 117.58 406.3 117.42 406.8 117.3 407.3 117.21 407.8 117.17 408.3 117.16 408.8 117.19 409.3 117.24 409.8 117.31 410.3 117.41 410.8 117.51 411.3 117.62 411.8 117.73 412.3 117.84 412.8 117.94 413.3 118.03 413.8 118.09 414.3 118.14 414.8 118.15 415.3 118.13 415.8 118.07 416.3 117.98 416.8 117.87 417.3 117.72 417.8 117.56 418.3 117.38 418.8 117.19 419.3 116.99 419.8 116.8 420.3 116.61 420.8 116.42 421.3 116.25 421.8 116.1 422.3 115.98 422.8 115.88 423.3 115.82 423.8 115.79 424.3 115.81 424.8 115.87 425.3 115.98 425.8 116.13 426.3 116.33 426.8 116.55 427.3 116.81 427.8 117.09 428.3 117.39 428.8 117.7 429.3 118.02 429.8 118.35 430.3 118.67 430.8 118.99 431.3 119.3 431.8 119.6 432.3 119.88 432.8 120.15 433.3 120.4 433.8 120.62 434.3 120.82 434.8 121 435.3 121.14 435.8 121.25 436.3 121.33 436.8 121.37 437.3 121.38 437.8 121.35 438.3 121.29 438.8 121.2 439.3 121.09 439.8 120.94 440.3 120.77 440.8 120.58 441.3 120.37 441.8 120.13 442.3 119.88 442.8 119.61 443.3 119.33 443.8 119.04 444.3 118.74 444.8 118.44 445.3 118.15 445.8 117.86 446.3 117.59 446.8 117.34 447.3 117.12 447.8 116.93 448.3 116.77 448.8 116.66 449.3 116.6 449.8 116.59 450.3 116.64 450.8 116.75 451.3 116.92 451.8 117.13 452.3 117.39 452.8 117.68 453.3 118 453.8 118.34 454.3 118.69 454.8 119.05 455.3 119.4 455.8 119.74 456.3 120.06 456.8 120.36 457.3 120.63 457.8 120.89 458.3 121.12 458.8 121.32 459.3 121.51 459.8 121.67 460.3 121.81 460.8 121.93 461.3 122.03 461.8 122.11 462.3 122.17 462.8 122.2 463.3 122.23 463.8 122.24 464.3 122.24 464.8 122.24 465.3 122.24 465.8 122.23 466.3 122.23 466.8 122.23 467.3 122.23 467.8 122.23 468.3 122.23 468.8 122.23 469.3 122.23 469.8 122.23 470.3 122.23 470.8 122.23 471.3 122.23 471.8 122.23 472.3 122.23 472.8 122.23 473.3 122.23 473.8 122.24 474.3 122.26 474.8 122.28 475.3 122.31 475.8 122.36 476.3 122.43 476.8 122.52 477.3 122.63 477.8 122.75 478.3 122.9 478.8 123.05 479.3 123.2 479.8 123.35 480.3 123.5 480.8 123.64 481.3 123.77 481.8 123.89 482.3 124 482.8 124.1 483.3 124.2 483.8 124.3 484.3 124.34 612.8 124.34" fill="none" stroke="#000" stroke-width="1.05" stroke-linejoin="round"/>
<path d="M278.8 139.79L278.8 139.79 391.3 139.79 391.8 139.73 392.3 139.64 392.8 139.54 393.3 139.42 393.8 139.28 394.3 139.1 394.8 138.89 395.3 138.64 395.8 138.34 396.3 138 396.8 137.62 397.3 137.2 397.8 136.76 398.3 136.29 398.8 135.8 399.3 135.3 399.8 134.8 400.3 134.29 400.8 133.78 401.3 133.28 401.8 132.78 402.3 132.3 402.8 131.83 403.3 131.37 403.8 130.94 404.3 130.54 404.8 130.19 405.3 129.91 405.8 129.72 406.3 129.62 406.8 129.63 407.3 129.74 407.8 129.96 408.3 130.25 408.8 130.6 409.3 131 409.8 131.43 410.3 131.88 410.8 132.33 411.3 132.77 411.8 133.19 412.3 133.58 412.8 133.92 413.3 134.21 413.8 134.45 414.3 134.64 414.8 134.78 415.3 134.89 415.8 134.97 416.3 135.02 416.8 135.05 417.3 135.07 417.8 135.08 418.3 135.08 418.8 135.09 419.3 135.11 419.8 135.14 420.3 135.17 420.8 135.21 421.3 135.26 421.8 135.32 422.3 135.39 422.8 135.47 423.3 135.55 423.8 135.65 424.3 135.75 424.8 135.85 425.3 135.97 425.8 136.09 426.3 136.22 426.8 136.35 427.3 136.49 427.8 136.62 428.3 136.75 428.8 136.87 429.3 136.97 429.8 137.07 430.3 137.15 430.8 137.21 431.3 137.24 431.8 137.25 432.3 137.24 432.8 137.19 433.3 137.1 433.8 136.99 434.3 136.85 434.8 136.68 435.3 136.49 435.8 136.28 436.3 136.04 436.8 135.8 437.3 135.54 437.8 135.27 438.3 135.01 438.8 134.74 439.3 134.49 439.8 134.26 440.3 134.06 440.8 133.9 441.3 133.78 441.8 133.71 442.3 133.7 442.8 133.75 443.3 133.85 443.8 134 444.3 134.19 444.8 134.42 445.3 134.68 445.8 134.96 446.3 135.25 446.8 135.56 447.3 135.86 447.8 136.17 448.3 136.46 448.8 136.74 449.3 137.01 449.8 137.26 450.3 137.48 450.8 137.69 451.3 137.88 451.8 138.03 452.3 138.17 452.8 138.27 453.3 138.34 453.8 138.39 454.3 138.4 454.8 138.38 455.3 138.34 455.8 138.27 456.3 138.19 456.8 138.1 457.3 138 457.8 137.9 458.3 137.8 458.8 137.71 459.3 137.63 459.8 137.56 460.3 137.52 460.8 137.49 461.3 137.5 461.8 137.53 462.3 137.58 462.8 137.65 463.3 137.74 463.8 137.85 464.3 137.96 464.8 138.09 465.3 138.22 465.8 138.36 466.3 138.5 466.8 138.63 467.3 138.76 467.8 138.89 468.3 139 468.8 139.11 469.3 139.2 469.8 139.29 470.3 139.36 470.8 139.43 471.3 139.48 471.8 139.53 472.3 139.56 472.8 139.59 473.3 139.61 473.8 139.61 474.3 139.61 474.8 139.59 475.3 139.57 475.8 139.53 476.3 139.49 476.8 139.44 477.3 139.38 477.8 139.31 478.3 139.23 478.8 139.14 479.3 139.04 479.8 138.93 480.3 138.81 480.8 138.69 481.3 138.56 481.8 138.42 482.3 138.29 482.8 138.16 483.3 138.03 483.8 137.92 484.3 137.81 484.8 137.73 485.3 137.66 485.8 137.62 486.3 137.59 486.8 137.6 487.3 137.63 487.8 137.69 488.3 137.76 488.8 137.86 489.3 137.97 489.8 138.09 490.3 138.22 490.8 138.35 491.3 138.49 491.8 138.63 492.3 138.76 492.8 138.89 493.3 139.01 493.8 139.13 494.3 139.23 494.8 139.33 495.3 139.42 495.8 139.5 496.3 139.56 496.8 139.62 497.3 139.67 497.8 139.7 498.3 139.72 498.8 139.74 499.3 139.74 499.8 139.72 500.3 139.7 500.8 139.66 501.3 139.61 501.8 139.56 502.3 139.48 502.8 139.4 503.3 139.31 503.8 139.2 504.3 139.09 504.8 138.97 505.3 138.84 505.8 138.71 506.3 138.58 506.8 138.45 507.3 138.32 507.8 138.19 508.3 138.07 508.8 137.96 509.3 137.86 509.8 137.77 510.3 137.71 510.8 137.66 511.3 137.65 511.8 137.66 512.3 137.71 512.8 137.77 513.3 137.85 513.8 137.94 514.3 138.04 514.8 138.15 515.3 138.27 515.8 138.4 516.3 138.53 516.8 138.67 517.3 138.81 517.8 138.95 518.3 139.08 518.8 139.21 519.3 139.32 519.8 139.41 520.3 139.5 520.8 139.57 521.3 139.62 521.8 139.67 522.3 139.71 522.8 139.75 523.3 139.78 576.3 139.79 576.8 139.77 577.3 139.73 577.8 139.7 578.3 139.66 578.8 139.61 579.3 139.55 579.8 139.49 580.3 139.41 580.8 139.31 581.3 139.21 581.8 139.09 582.3 138.97 582.8 138.84 583.3 138.7 583.8 138.56 584.3 138.42 584.8 138.28 585.3 138.14 585.8 138.02 586.3 137.91 586.8 137.81 587.3 137.73 587.8 137.68 588.3 137.65 588.8 137.64 589.3 137.66 589.8 137.71 590.3 137.78 590.8 137.86 591.3 137.97 591.8 138.09 592.3 138.22 592.8 138.36 593.3 138.5 593.8 138.64 594.3 138.78 594.8 138.91 595.3 139.04 595.8 139.16 596.3 139.27 596.8 139.37 597.3 139.46 597.8 139.53 598.3 139.59 598.8 139.64 599.3 139.68 599.8 139.72 600.3 139.75 600.8 139.77 601.3 139.79 612.8 139.79L612.8 139.79Z" fill="#C8FF00"/>
<path d="M278.8 139.79 391.3 139.79 391.8 139.73 392.3 139.64 392.8 139.54 393.3 139.42 393.8 139.28 394.3 139.1 394.8 138.89 395.3 138.64 395.8 138.34 396.3 138 396.8 137.62 397.3 137.2 397.8 136.76 398.3 136.29 398.8 135.8 399.3 135.3 399.8 134.8 400.3 134.29 400.8 133.78 401.3 133.28 401.8 132.78 402.3 132.3 402.8 131.83 403.3 131.37 403.8 130.94 404.3 130.54 404.8 130.19 405.3 129.91 405.8 129.72 406.3 129.62 406.8 129.63 407.3 129.74 407.8 129.96 408.3 130.25 408.8 130.6 409.3 131 409.8 131.43 410.3 131.88 410.8 132.33 411.3 132.77 411.8 133.19 412.3 133.58 412.8 133.92 413.3 134.21 413.8 134.45 414.3 134.64 414.8 134.78 415.3 134.89 415.8 134.97 416.3 135.02 416.8 135.05 417.3 135.07 417.8 135.08 418.3 135.08 418.8 135.09 419.3 135.11 419.8 135.14 420.3 135.17 420.8 135.21 421.3 135.26 421.8 135.32 422.3 135.39 422.8 135.47 423.3 135.55 423.8 135.65 424.3 135.75 424.8 135.85 425.3 135.97 425.8 136.09 426.3 136.22 426.8 136.35 427.3 136.49 427.8 136.62 428.3 136.75 428.8 136.87 429.3 136.97 429.8 137.07 430.3 137.15 430.8 137.21 431.3 137.24 431.8 137.25 432.3 137.24 432.8 137.19 433.3 137.1 433.8 136.99 434.3 136.85 434.8 136.68 435.3 136.49 435.8 136.28 436.3 136.04 436.8 135.8 437.3 135.54 437.8 135.27 438.3 135.01 438.8 134.74 439.3 134.49 439.8 134.26 440.3 134.06 440.8 133.9 441.3 133.78 441.8 133.71 442.3 133.7 442.8 133.75 443.3 133.85 443.8 134 444.3 134.19 444.8 134.42 445.3 134.68 445.8 134.96 446.3 135.25 446.8 135.56 447.3 135.86 447.8 136.17 448.3 136.46 448.8 136.74 449.3 137.01 449.8 137.26 450.3 137.48 450.8 137.69 451.3 137.88 451.8 138.03 452.3 138.17 452.8 138.27 453.3 138.34 453.8 138.39 454.3 138.4 454.8 138.38 455.3 138.34 455.8 138.27 456.3 138.19 456.8 138.1 457.3 138 457.8 137.9 458.3 137.8 458.8 137.71 459.3 137.63 459.8 137.56 460.3 137.52 460.8 137.49 461.3 137.5 461.8 137.53 462.3 137.58 462.8 137.65 463.3 137.74 463.8 137.85 464.3 137.96 464.8 138.09 465.3 138.22 465.8 138.36 466.3 138.5 466.8 138.63 467.3 138.76 467.8 138.89 468.3 139 468.8 139.11 469.3 139.2 469.8 139.29 470.3 139.36 470.8 139.43 471.3 139.48 471.8 139.53 472.3 139.56 472.8 139.59 473.3 139.61 473.8 139.61 474.3 139.61 474.8 139.59 475.3 139.57 475.8 139.53 476.3 139.49 476.8 139.44 477.3 139.38 477.8 139.31 478.3 139.23 478.8 139.14 479.3 139.04 479.8 138.93 480.3 138.81 480.8 138.69 481.3 138.56 481.8 138.42 482.3 138.29 482.8 138.16 483.3 138.03 483.8 137.92 484.3 137.81 484.8 137.73 485.3 137.66 485.8 137.62 486.3 137.59 486.8 137.6 487.3 137.63 487.8 137.69 488.3 137.76 488.8 137.86 489.3 137.97 489.8 138.09 490.3 138.22 490.8 138.35 491.3 138.49 491.8 138.63 492.3 138.76 492.8 138.89 493.3 139.01 493.8 139.13 494.3 139.23 494.8 139.33 495.3 139.42 495.8 139.5 496.3 139.56 496.8 139.62 497.3 139.67 497.8 139.7 498.3 139.72 498.8 139.74 499.3 139.74 499.8 139.72 500.3 139.7 500.8 139.66 501.3 139.61 501.8 139.56 502.3 139.48 502.8 139.4 503.3 139.31 503.8 139.2 504.3 139.09 504.8 138.97 505.3 138.84 505.8 138.71 506.3 138.58 506.8 138.45 507.3 138.32 507.8 138.19 508.3 138.07 508.8 137.96 509.3 137.86 509.8 137.77 510.3 137.71 510.8 137.66 511.3 137.65 511.8 137.66 512.3 137.71 512.8 137.77 513.3 137.85 513.8 137.94 514.3 138.04 514.8 138.15 515.3 138.27 515.8 138.4 516.3 138.53 516.8 138.67 517.3 138.81 517.8 138.95 518.3 139.08 518.8 139.21 519.3 139.32 519.8 139.41 520.3 139.5 520.8 139.57 521.3 139.62 521.8 139.67 522.3 139.71 522.8 139.75 523.3 139.78 576.3 139.79 576.8 139.77 577.3 139.73 577.8 139.7 578.3 139.66 578.8 139.61 579.3 139.55 579.8 139.49 580.3 139.41 580.8 139.31 581.3 139.21 581.8 139.09 582.3 138.97 582.8 138.84 583.3 138.7 583.8 138.56 584.3 138.42 584.8 138.28 585.3 138.14 585.8 138.02 586.3 137.91 586.8 137.81 587.3 137.73 587.8 137.68 588.3 137.65 588.8 137.64 589.3 137.66 589.8 137.71 590.3 137.78 590.8 137.86 591.3 137.97 591.8 138.09 592.3 138.22 592.8 138.36 593.3 138.5 593.8 138.64 594.3 138.78 594.8 138.91 595.3 139.04 595.8 139.16 596.3 139.27 596.8 139.37 597.3 139.46 597.8 139.53 598.3 139.59 598.8 139.64 599.3 139.68 599.8 139.72 600.3 139.75 600.8 139.77 601.3 139.79 612.8 139.79" fill="none" stroke="#000" stroke-width="1.05" stroke-linejoin="round"/>
<path d="M278.8 155.25L278.8 155.25 318.8 155.24 319.3 155.23 319.8 155.21 320.3 155.19 320.8 155.17 321.3 155.13 321.8 155.08 322.3 155.02 322.8 154.94 323.3 154.85 323.8 154.75 324.3 154.65 324.8 154.53 325.3 154.41 325.8 154.29 326.3 154.16 326.8 154.04 327.3 153.91 327.8 153.79 328.3 153.68 328.8 153.57 329.3 153.47 329.8 153.37 330.3 153.29 330.8 153.23 331.3 153.17 331.8 153.13 332.3 153.11 332.8 153.1 333.3 153.12 333.8 153.15 334.3 153.2 334.8 153.27 335.3 153.35 335.8 153.44 336.3 153.53 336.8 153.62 337.3 153.7 337.8 153.77 338.3 153.82 338.8 153.85 339.3 153.85 339.8 153.82 340.3 153.75 340.8 153.64 341.3 153.49 341.8 153.29 342.3 153.05 342.8 152.78 343.3 152.47 343.8 152.14 344.3 151.78 344.8 151.41 345.3 151.01 345.8 150.6 346.3 150.18 346.8 149.74 347.3 149.27 347.8 148.79 348.3 148.27 348.8 147.73 349.3 147.14 349.8 146.52 350.3 145.86 350.8 145.18 351.3 144.48 351.8 143.8 352.3 143.16 352.8 142.58 353.3 142.06 353.8 141.63 354.3 141.26 354.8 140.95 355.3 140.69 355.8 140.46 356.3 140.27 356.8 140.11 357.3 139.99 357.8 139.9 358.3 139.84 358.8 139.82 359.3 139.83 359.8 139.87 360.3 139.94 360.8 140.02 361.3 140.12 361.8 140.23 362.3 140.36 362.8 140.51 363.3 140.68 363.8 140.87 364.3 141.1 364.8 141.36 365.3 141.65 365.8 141.98 366.3 142.34 366.8 142.74 367.3 143.16 367.8 143.62 368.3 144.1 368.8 144.61 369.3 145.15 369.8 145.7 370.3 146.27 370.8 146.86 371.3 147.45 371.8 148.05 372.3 148.64 372.8 149.22 373.3 149.79 373.8 150.34 374.3 150.86 374.8 151.36 375.3 151.83 375.8 152.27 376.3 152.68 376.8 153.06 377.3 153.41 377.8 153.72 378.3 153.99 378.8 154.23 379.3 154.44 379.8 154.61 380.3 154.75 380.8 154.87 381.3 154.97 381.8 155.06 382.3 155.13 382.8 155.19 383.3 155.25 612.8 155.25L612.8 155.25Z" fill="#FF0000"/>
<path d="M278.8 155.25 318.8 155.24 319.3 155.23 319.8 155.21 320.3 155.19 320.8 155.17 321.3 155.13 321.8 155.08 322.3 155.02 322.8 154.94 323.3 154.85 323.8 154.75 324.3 154.65 324.8 154.53 325.3 154.41 325.8 154.29 326.3 154.16 326.8 154.04 327.3 153.91 327.8 153.79 328.3 153.68 328.8 153.57 329.3 153.47 329.8 153.37 330.3 153.29 330.8 153.23 331.3 153.17 331.8 153.13 332.3 153.11 332.8 153.1 333.3 153.12 333.8 153.15 334.3 153.2 334.8 153.27 335.3 153.35 335.8 153.44 336.3 153.53 336.8 153.62 337.3 153.7 337.8 153.77 338.3 153.82 338.8 153.85 339.3 153.85 339.8 153.82 340.3 153.75 340.8 153.64 341.3 153.49 341.8 153.29 342.3 153.05 342.8 152.78 343.3 152.47 343.8 152.14 344.3 151.78 344.8 151.41 345.3 151.01 345.8 150.6 346.3 150.18 346.8 149.74 347.3 149.27 347.8 148.79 348.3 148.27 348.8 147.73 349.3 147.14 349.8 146.52 350.3 145.86 350.8 145.18 351.3 144.48 351.8 143.8 352.3 143.16 352.8 142.58 353.3 142.06 353.8 141.63 354.3 141.26 354.8 140.95 355.3 140.69 355.8 140.46 356.3 140.27 356.8 140.11 357.3 139.99 357.8 139.9 358.3 139.84 358.8 139.82 359.3 139.83 359.8 139.87 360.3 139.94 360.8 140.02 361.3 140.12 361.8 140.23 362.3 140.36 362.8 140.51 363.3 140.68 363.8 140.87 364.3 141.1 364.8 141.36 365.3 141.65 365.8 141.98 366.3 142.34 366.8 142.74 367.3 143.16 367.8 143.62 368.3 144.1 368.8 144.61 369.3 145.15 369.8 145.7 370.3 146.27 370.8 146.86 371.3 147.45 371.8 148.05 372.3 148.64 372.8 149.22 373.3 149.79 373.8 150.34 374.3 150.86 374.8 151.36 375.3 151.83 375.8 152.27 376.3 152.68 376.8 153.06 377.3 153.41 377.8 153.72 378.3 153.99 378.8 154.23 379.3 154.44 379.8 154.61 380.3 154.75 380.8 154.87 381.3 154.97 381.8 155.06 382.3 155.13 382.8 155.19 383.3 155.25 612.8 155.25" fill="none" stroke="#000" stroke-width="1.05" stroke-linejoin="round"/>
<path d="M278.8 170.7L278.8 170.7 279.3 170.69 279.8 170.65 280.3 170.58 280.8 170.48 281.3 170.35 281.8 170.19 282.3 170.02 282.8 169.82 283.3 169.61 283.8 169.38 284.3 169.15 284.8 168.9 285.3 168.65 285.8 168.4 286.3 168.14 286.8 167.87 287.3 167.6 287.8 167.32 288.3 167.04 288.8 166.75 289.3 166.46 289.8 166.18 290.3 165.91 290.8 165.67 291.3 165.47 291.8 165.32 292.3 165.23 292.8 165.21 293.3 165.27 293.8 165.39 294.3 165.59 294.8 165.83 295.3 166.12 295.8 166.43 296.3 166.76 296.8 167.1 297.3 167.44 297.8 167.78 298.3 168.09 298.8 168.39 299.3 168.67 299.8 168.92 300.3 169.15 300.8 169.36 301.3 169.54 301.8 169.7 302.3 169.84 302.8 169.97 303.3 170.08 303.8 170.17 304.3 170.25 304.8 170.32 305.3 170.38 305.8 170.42 306.3 170.46 306.8 170.48 307.3 170.5 307.8 170.51 308.3 170.52 308.8 170.52 309.3 170.52 309.8 170.51 310.3 170.5 310.8 170.49 311.3 170.48 311.8 170.47 312.3 170.45 312.8 170.43 313.3 170.4 313.8 170.36 314.3 170.31 314.8 170.25 315.3 170.18 315.8 170.09 316.3 169.99 316.8 169.88 317.3 169.74 317.8 169.59 318.3 169.41 318.8 169.22 319.3 169 319.8 168.76 320.3 168.51 320.8 168.24 321.3 167.96 321.8 167.67 322.3 167.36 322.8 167.06 323.3 166.75 323.8 166.45 324.3 166.16 324.8 165.91 325.3 165.69 325.8 165.53 326.3 165.44 326.8 165.41 327.3 165.47 327.8 165.59 328.3 165.79 328.8 166.04 329.3 166.34 329.8 166.67 330.3 167.02 330.8 167.38 331.3 167.73 331.8 168.06 332.3 168.36 332.8 168.63 333.3 168.86 333.8 169.05 334.3 169.2 334.8 169.3 335.3 169.35 335.8 169.34 336.3 169.27 336.8 169.13 337.3 168.92 337.8 168.62 338.3 168.21 338.8 167.7 339.3 167.06 339.8 166.28 340.3 165.35 340.8 164.26 341.3 163.04 341.8 161.69 342.3 160.27 342.8 158.82 343.3 157.38 343.8 156 344.3 154.73 344.8 153.59 345.3 152.59 345.8 151.73 346.3 151.01 346.8 150.43 347.3 150.01 347.8 149.77 348.3 149.73 348.8 149.9 349.3 150.26 349.8 150.81 350.3 151.53 350.8 152.39 351.3 153.38 351.8 154.48 352.3 155.69 352.8 156.98 353.3 158.34 353.8 159.73 354.3 161.14 354.8 162.51 355.3 163.81 355.8 165.01 356.3 166.07 356.8 166.98 357.3 167.74 357.8 168.35 358.3 168.84 358.8 169.22 359.3 169.52 359.8 169.77 360.3 169.97 360.8 170.13 361.3 170.27 361.8 170.39 362.3 170.5 362.8 170.6 363.3 170.69 363.8 170.7 612.8 170.7L612.8 170.7Z" fill="#FF0000"/>
<path d="M278.8 170.7 279.3 170.69 279.8 170.65 280.3 170.58 280.8 170.48 281.3 170.35 281.8 170.19 282.3 170.02 282.8 169.82 283.3 169.61 283.8 169.38 284.3 169.15 284.8 168.9 285.3 168.65 285.8 168.4 286.3 168.14 286.8 167.87 287.3 167.6 287.8 167.32 288.3 167.04 288.8 166.75 289.3 166.46 289.8 166.18 290.3 165.91 290.8 165.67 291.3 165.47 291.8 165.32 292.3 165.23 292.8 165.21 293.3 165.27 293.8 165.39 294.3 165.59 294.8 165.83 295.3 166.12 295.8 166.43 296.3 166.76 296.8 167.1 297.3 167.44 297.8 167.78 298.3 168.09 298.8 168.39 299.3 168.67 299.8 168.92 300.3 169.15 300.8 169.36 301.3 169.54 301.8 169.7 302.3 169.84 302.8 169.97 303.3 170.08 303.8 170.17 304.3 170.25 304.8 170.32 305.3 170.38 305.8 170.42 306.3 170.46 306.8 170.48 307.3 170.5 307.8 170.51 308.3 170.52 308.8 170.52 309.3 170.52 309.8 170.51 310.3 170.5 310.8 170.49 311.3 170.48 311.8 170.47 312.3 170.45 312.8 170.43 313.3 170.4 313.8 170.36 314.3 170.31 314.8 170.25 315.3 170.18 315.8 170.09 316.3 169.99 316.8 169.88 317.3 169.74 317.8 169.59 318.3 169.41 318.8 169.22 319.3 169 319.8 168.76 320.3 168.51 320.8 168.24 321.3 167.96 321.8 167.67 322.3 167.36 322.8 167.06 323.3 166.75 323.8 166.45 324.3 166.16 324.8 165.91 325.3 165.69 325.8 165.53 326.3 165.44 326.8 165.41 327.3 165.47 327.8 165.59 328.3 165.79 328.8 166.04 329.3 166.34 329.8 166.67 330.3 167.02 330.8 167.38 331.3 167.73 331.8 168.06 332.3 168.36 332.8 168.63 333.3 168.86 333.8 169.05 334.3 169.2 334.8 169.3 335.3 169.35 335.8 169.34 336.3 169.27 336.8 169.13 337.3 168.92 337.8 168.62 338.3 168.21 338.8 167.7 339.3 167.06 339.8 166.28 340.3 165.35 340.8 164.26 341.3 163.04 341.8 161.69 342.3 160.27 342.8 158.82 343.3 157.38 343.8 156 344.3 154.73 344.8 153.59 345.3 152.59 345.8 151.73 346.3 151.01 346.8 150.43 347.3 150.01 347.8 149.77 348.3 149.73 348.8 149.9 349.3 150.26 349.8 150.81 350.3 151.53 350.8 152.39 351.3 153.38 351.8 154.48 352.3 155.69 352.8 156.98 353.3 158.34 353.8 159.73 354.3 161.14 354.8 162.51 355.3 163.81 355.8 165.01 356.3 166.07 356.8 166.98 357.3 167.74 357.8 168.35 358.3 168.84 358.8 169.22 359.3 169.52 359.8 169.77 360.3 169.97 360.8 170.13 361.3 170.27 361.8 170.39 362.3 170.5 362.8 170.6 363.3 170.69 363.8 170.7 612.8 170.7" fill="none" stroke="#000" stroke-width="1.05" stroke-linejoin="round"/>
<path d="M278.8 186.16L278.8 186.16 328.8 186.16 329.3 186.14 329.8 186.12 330.3 186.09 330.8 186.05 331.3 185.99 331.8 185.92 332.3 185.83 332.8 185.71 333.3 185.58 333.8 185.43 334.3 185.27 334.8 185.09 335.3 184.9 335.8 184.71 336.3 184.52 336.8 184.33 337.3 184.15 337.8 183.99 338.3 183.84 338.8 183.72 339.3 183.62 339.8 183.54 340.3 183.49 340.8 183.45 341.3 183.44 341.8 183.44 342.3 183.46 342.8 183.49 343.3 183.52 343.8 183.55 344.3 183.58 344.8 183.59 345.3 183.57 345.8 183.52 346.3 183.44 346.8 183.31 347.3 183.14 347.8 182.93 348.3 182.71 348.8 182.47 349.3 182.22 349.8 181.96 350.3 181.69 350.8 181.4 351.3 181.08 351.8 180.72 352.3 180.34 352.8 179.94 353.3 179.53 353.8 179.12 354.3 178.7 354.8 178.28 355.3 177.85 355.8 177.43 356.3 177 356.8 176.58 357.3 176.15 357.8 175.72 358.3 175.29 358.8 174.85 359.3 174.42 359.8 173.99 360.3 173.56 360.8 173.14 361.3 172.72 361.8 172.3 362.3 171.9 362.8 171.5 363.3 171.11 363.8 170.73 364.3 170.36 364.8 170.01 365.3 169.68 365.8 169.38 366.3 169.11 366.8 168.89 367.3 168.73 367.8 168.63 368.3 168.62 368.8 168.68 369.3 168.84 369.8 169.09 370.3 169.43 370.8 169.86 371.3 170.38 371.8 170.99 372.3 171.69 372.8 172.47 373.3 173.32 373.8 174.24 374.3 175.19 374.8 176.16 375.3 177.13 375.8 178.06 376.3 178.94 376.8 179.76 377.3 180.51 377.8 181.19 378.3 181.8 378.8 182.36 379.3 182.86 379.8 183.32 380.3 183.72 380.8 184.09 381.3 184.41 381.8 184.71 382.3 184.96 382.8 185.19 383.3 185.38 383.8 185.55 384.3 185.69 384.8 185.81 385.3 185.91 385.8 185.98 386.3 186.04 386.8 186.08 387.3 186.11 387.8 186.13 388.3 186.15 612.8 186.16L612.8 186.16Z" fill="#C8FF00"/>
<path d="M278.8 186.16 328.8 186.16 329.3 186.14 329.8 186.12 330.3 186.09 330.8 186.05 331.3 185.99 331.8 185.92 332.3 185.83 332.8 185.71 333.3 185.58 333.8 185.43 334.3 185.27 334.8 185.09 335.3 184.9 335.8 184.71 336.3 184.52 336.8 184.33 337.3 184.15 337.8 183.99 338.3 183.84 338.8 183.72 339.3 183.62 339.8 183.54 340.3 183.49 340.8 183.45 341.3 183.44 341.8 183.44 342.3 183.46 342.8 183.49 343.3 183.52 343.8 183.55 344.3 183.58 344.8 183.59 345.3 183.57 345.8 183.52 346.3 183.44 346.8 183.31 347.3 183.14 347.8 182.93 348.3 182.71 348.8 182.47 349.3 182.22 349.8 181.96 350.3 181.69 350.8 181.4 351.3 181.08 351.8 180.72 352.3 180.34 352.8 179.94 353.3 179.53 353.8 179.12 354.3 178.7 354.8 178.28 355.3 177.85 355.8 177.43 356.3 177 356.8 176.58 357.3 176.15 357.8 175.72 358.3 175.29 358.8 174.85 359.3 174.42 359.8 173.99 360.3 173.56 360.8 173.14 361.3 172.72 361.8 172.3 362.3 171.9 362.8 171.5 363.3 171.11 363.8 170.73 364.3 170.36 364.8 170.01 365.3 169.68 365.8 169.38 366.3 169.11 366.8 168.89 367.3 168.73 367.8 168.63 368.3 168.62 368.8 168.68 369.3 168.84 369.8 169.09 370.3 169.43 370.8 169.86 371.3 170.38 371.8 170.99 372.3 171.69 372.8 172.47 373.3 173.32 373.8 174.24 374.3 175.19 374.8 176.16 375.3 177.13 375.8 178.06 376.3 178.94 376.8 179.76 377.3 180.51 377.8 181.19 378.3 181.8 378.8 182.36 379.3 182.86 379.8 183.32 380.3 183.72 380.8 184.09 381.3 184.41 381.8 184.71 382.3 184.96 382.8 185.19 383.3 185.38 383.8 185.55 384.3 185.69 384.8 185.81 385.3 185.91 385.8 185.98 386.3 186.04 386.8 186.08 387.3 186.11 387.8 186.13 388.3 186.15 612.8 186.16" fill="none" stroke="#000" stroke-width="1.05" stroke-linejoin="round"/>
<path d="M278.8 201.61L278.8 201.61 338.8 201.6 339.3 201.6 339.8 201.59 340.3 201.58 340.8 201.56 341.3 201.54 341.8 201.51 342.3 201.47 342.8 201.42 343.3 201.37 343.8 201.3 344.3 201.21 344.8 201.11 345.3 200.98 345.8 200.84 346.3 200.67 346.8 200.48 347.3 200.27 347.8 200.05 348.3 199.84 348.8 199.62 349.3 199.4 349.8 199.19 350.3 198.96 350.8 198.72 351.3 198.45 351.8 198.16 352.3 197.85 352.8 197.53 353.3 197.21 353.8 196.9 354.3 196.61 354.8 196.34 355.3 196.09 355.8 195.85 356.3 195.61 356.8 195.36 357.3 195.07 357.8 194.76 358.3 194.4 358.8 193.97 359.3 193.48 359.8 192.92 360.3 192.27 360.8 191.55 361.3 190.76 361.8 189.91 362.3 189.03 362.8 188.12 363.3 187.2 363.8 186.27 364.3 185.36 364.8 184.48 365.3 183.62 365.8 182.8 366.3 182.04 366.8 181.34 367.3 180.71 367.8 180.17 368.3 179.73 368.8 179.42 369.3 179.24 369.8 179.21 370.3 179.35 370.8 179.64 371.3 180.09 371.8 180.7 372.3 181.44 372.8 182.32 373.3 183.31 373.8 184.41 374.3 185.59 374.8 186.82 375.3 188.07 375.8 189.3 376.3 190.49 376.8 191.61 377.3 192.67 377.8 193.65 378.3 194.56 378.8 195.41 379.3 196.19 379.8 196.91 380.3 197.58 380.8 198.19 381.3 198.74 381.8 199.24 382.3 199.69 382.8 200.07 383.3 200.41 383.8 200.68 384.3 200.91 384.8 201.1 385.3 201.24 385.8 201.35 386.3 201.44 386.8 201.5 387.3 201.56 387.8 201.6 388.3 201.61 612.8 201.61L612.8 201.61Z" fill="#C8FF00"/>
<path d="M278.8 201.61 338.8 201.6 339.3 201.6 339.8 201.59 340.3 201.58 340.8 201.56 341.3 201.54 341.8 201.51 342.3 201.47 342.8 201.42 343.3 201.37 343.8 201.3 344.3 201.21 344.8 201.11 345.3 200.98 345.8 200.84 346.3 200.67 346.8 200.48 347.3 200.27 347.8 200.05 348.3 199.84 348.8 199.62 349.3 199.4 349.8 199.19 350.3 198.96 350.8 198.72 351.3 198.45 351.8 198.16 352.3 197.85 352.8 197.53 353.3 197.21 353.8 196.9 354.3 196.61 354.8 196.34 355.3 196.09 355.8 195.85 356.3 195.61 356.8 195.36 357.3 195.07 357.8 194.76 358.3 194.4 358.8 193.97 359.3 193.48 359.8 192.92 360.3 192.27 360.8 191.55 361.3 190.76 361.8 189.91 362.3 189.03 362.8 188.12 363.3 187.2 363.8 186.27 364.3 185.36 364.8 184.48 365.3 183.62 365.8 182.8 366.3 182.04 366.8 181.34 367.3 180.71 367.8 180.17 368.3 179.73 368.8 179.42 369.3 179.24 369.8 179.21 370.3 179.35 370.8 179.64 371.3 180.09 371.8 180.7 372.3 181.44 372.8 182.32 373.3 183.31 373.8 184.41 374.3 185.59 374.8 186.82 375.3 188.07 375.8 189.3 376.3 190.49 376.8 191.61 377.3 192.67 377.8 193.65 378.3 194.56 378.8 195.41 379.3 196.19 379.8 196.91 380.3 197.58 380.8 198.19 381.3 198.74 381.8 199.24 382.3 199.69 382.8 200.07 383.3 200.41 383.8 200.68 384.3 200.91 384.8 201.1 385.3 201.24 385.8 201.35 386.3 201.44 386.8 201.5 387.3 201.56 387.8 201.6 388.3 201.61 612.8 201.61" fill="none" stroke="#000" stroke-width="1.05" stroke-linejoin="round"/>
<path d="M278.8 217.06L278.8 217.06 331.3 217.06 331.8 217.04 332.3 217 332.8 216.97 333.3 216.93 333.8 216.89 334.3 216.86 334.8 216.81 335.3 216.77 335.8 216.73 336.3 216.69 336.8 216.64 337.3 216.6 337.8 216.55 338.3 216.51 338.8 216.47 339.3 216.43 339.8 216.4 340.3 216.37 340.8 216.35 341.3 216.32 341.8 216.31 342.3 216.29 342.8 216.28 343.3 216.27 343.8 216.27 344.3 216.27 344.8 216.26 345.3 216.26 345.8 216.26 346.3 216.26 346.8 216.27 347.3 216.27 347.8 216.27 348.3 216.27 348.8 216.27 349.3 216.27 349.8 216.27 350.3 216.27 350.8 216.27 351.3 216.27 351.8 216.27 352.3 216.26 352.8 216.24 353.3 216.21 353.8 216.16 354.3 216.08 354.8 215.98 355.3 215.84 355.8 215.65 356.3 215.42 356.8 215.13 357.3 214.78 357.8 214.35 358.3 213.84 358.8 213.24 359.3 212.53 359.8 211.7 360.3 210.75 360.8 209.68 361.3 208.5 361.8 207.23 362.3 205.9 362.8 204.53 363.3 203.16 363.8 201.79 364.3 200.46 364.8 199.16 365.3 197.89 365.8 196.66 366.3 195.47 366.8 194.33 367.3 193.29 367.8 192.38 368.3 191.65 368.8 191.15 369.3 190.93 369.8 191 370.3 191.39 370.8 192.07 371.3 193 371.8 194.16 372.3 195.49 372.8 196.97 373.3 198.54 373.8 200.19 374.3 201.86 374.8 203.51 375.3 205.12 375.8 206.64 376.3 208.05 376.8 209.35 377.3 210.53 377.8 211.58 378.3 212.52 378.8 213.34 379.3 214.04 379.8 214.63 380.3 215.12 380.8 215.52 381.3 215.84 381.8 216.09 382.3 216.29 382.8 216.44 383.3 216.57 383.8 216.68 384.3 216.76 384.8 216.84 385.3 216.9 385.8 216.96 386.3 217.02 386.8 217.06 612.8 217.06L612.8 217.06Z" fill="#C8FF00"/>
<path d="M278.8 217.06 331.3 217.06 331.8 217.04 332.3 217 332.8 216.97 333.3 216.93 333.8 216.89 334.3 216.86 334.8 216.81 335.3 216.77 335.8 216.73 336.3 216.69 336.8 216.64 337.3 216.6 337.8 216.55 338.3 216.51 338.8 216.47 339.3 216.43 339.8 216.4 340.3 216.37 340.8 216.35 341.3 216.32 341.8 216.31 342.3 216.29 342.8 216.28 343.3 216.27 343.8 216.27 344.3 216.27 344.8 216.26 345.3 216.26 345.8 216.26 346.3 216.26 346.8 216.27 347.3 216.27 347.8 216.27 348.3 216.27 348.8 216.27 349.3 216.27 349.8 216.27 350.3 216.27 350.8 216.27 351.3 216.27 351.8 216.27 352.3 216.26 352.8 216.24 353.3 216.21 353.8 216.16 354.3 216.08 354.8 215.98 355.3 215.84 355.8 215.65 356.3 215.42 356.8 215.13 357.3 214.78 357.8 214.35 358.3 213.84 358.8 213.24 359.3 212.53 359.8 211.7 360.3 210.75 360.8 209.68 361.3 208.5 361.8 207.23 362.3 205.9 362.8 204.53 363.3 203.16 363.8 201.79 364.3 200.46 364.8 199.16 365.3 197.89 365.8 196.66 366.3 195.47 366.8 194.33 367.3 193.29 367.8 192.38 368.3 191.65 368.8 191.15 369.3 190.93 369.8 191 370.3 191.39 370.8 192.07 371.3 193 371.8 194.16 372.3 195.49 372.8 196.97 373.3 198.54 373.8 200.19 374.3 201.86 374.8 203.51 375.3 205.12 375.8 206.64 376.3 208.05 376.8 209.35 377.3 210.53 377.8 211.58 378.3 212.52 378.8 213.34 379.3 214.04 379.8 214.63 380.3 215.12 380.8 215.52 381.3 215.84 381.8 216.09 382.3 216.29 382.8 216.44 383.3 216.57 383.8 216.68 384.3 216.76 384.8 216.84 385.3 216.9 385.8 216.96 386.3 217.02 386.8 217.06 612.8 217.06" fill="none" stroke="#000" stroke-width="1.05" stroke-linejoin="round"/>
<path d="M278.8 232.52L278.8 232.52 281.3 232.51 281.8 232.51 282.3 232.51 282.8 232.5 283.3 232.5 283.8 232.5 284.3 232.5 284.8 232.5 285.3 232.5 285.8 232.49 286.3 232.49 286.8 232.49 287.3 232.49 287.8 232.49 288.3 232.48 288.8 232.48 289.3 232.48 289.8 232.48 290.3 232.48 290.8 232.48 291.3 232.47 291.8 232.47 292.3 232.47 292.8 232.47 293.3 232.47 293.8 232.47 294.3 232.47 294.8 232.46 295.3 232.46 295.8 232.46 296.3 232.46 296.8 232.46 297.3 232.46 297.8 232.46 298.3 232.46 298.8 232.46 299.3 232.46 299.8 232.45 300.3 232.45 300.8 232.45 301.3 232.45 301.8 232.45 302.3 232.45 302.8 232.45 303.3 232.45 303.8 232.45 304.3 232.45 304.8 232.45 305.3 232.45 305.8 232.45 306.3 232.45 306.8 232.45 307.3 232.45 307.8 232.45 308.3 232.45 308.8 232.45 309.3 232.45 309.8 232.45 310.3 232.45 310.8 232.45 311.3 232.45 311.8 232.46 312.3 232.46 312.8 232.46 313.3 232.46 313.8 232.46 314.3 232.46 314.8 232.46 315.3 232.46 315.8 232.47 316.3 232.47 316.8 232.47 317.3 232.47 317.8 232.47 318.3 232.48 318.8 232.48 319.3 232.48 319.8 232.48 320.3 232.49 320.8 232.49 321.3 232.49 321.8 232.5 322.3 232.5 322.8 232.5 323.3 232.5 323.8 232.51 324.3 232.51 332.3 232.52 332.8 232.51 333.3 232.5 333.8 232.48 334.3 232.47 334.8 232.45 335.3 232.42 335.8 232.4 336.3 232.37 336.8 232.34 337.3 232.31 337.8 232.29 338.3 232.26 338.8 232.23 339.3 232.2 339.8 232.18 340.3 232.17 340.8 232.15 341.3 232.15 341.8 232.15 342.3 232.15 342.8 232.17 343.3 232.19 343.8 232.22 344.3 232.26 344.8 232.31 345.3 232.35 345.8 232.38 346.3 232.39 346.8 232.38 347.3 232.34 347.8 232.26 348.3 232.14 348.8 231.96 349.3 231.73 349.8 231.43 350.3 231.06 350.8 230.62 351.3 230.09 351.8 229.47 352.3 228.77 352.8 227.98 353.3 227.11 353.8 226.15 354.3 225.11 354.8 223.99 355.3 222.8 355.8 221.57 356.3 220.29 356.8 219 357.3 217.71 357.8 216.43 358.3 215.17 358.8 213.95 359.3 212.74 359.8 211.57 360.3 210.41 360.8 209.28 361.3 208.17 361.8 207.13 362.3 206.2 362.8 205.45 363.3 204.97 363.8 204.81 364.3 205 364.8 205.55 365.3 206.4 365.8 207.52 366.3 208.84 366.8 210.3 367.3 211.87 367.8 213.49 368.3 215.14 368.8 216.79 369.3 218.39 369.8 219.93 370.3 221.38 370.8 222.75 371.3 224.01 371.8 225.18 372.3 226.23 372.8 227.17 373.3 227.99 373.8 228.7 374.3 229.31 374.8 229.83 375.3 230.27 375.8 230.65 376.3 230.97 376.8 231.24 377.3 231.48 377.8 231.68 378.3 231.86 378.8 232.01 379.3 232.14 379.8 232.26 380.3 232.37 380.8 232.47 381.3 232.52 612.8 232.52L612.8 232.52Z" fill="#C8FF00"/>
<path d="M278.8 232.52 281.3 232.51 281.8 232.51 282.3 232.51 282.8 232.5 283.3 232.5 283.8 232.5 284.3 232.5 284.8 232.5 285.3 232.5 285.8 232.49 286.3 232.49 286.8 232.49 287.3 232.49 287.8 232.49 288.3 232.48 288.8 232.48 289.3 232.48 289.8 232.48 290.3 232.48 290.8 232.48 291.3 232.47 291.8 232.47 292.3 232.47 292.8 232.47 293.3 232.47 293.8 232.47 294.3 232.47 294.8 232.46 295.3 232.46 295.8 232.46 296.3 232.46 296.8 232.46 297.3 232.46 297.8 232.46 298.3 232.46 298.8 232.46 299.3 232.46 299.8 232.45 300.3 232.45 300.8 232.45 301.3 232.45 301.8 232.45 302.3 232.45 302.8 232.45 303.3 232.45 303.8 232.45 304.3 232.45 304.8 232.45 305.3 232.45 305.8 232.45 306.3 232.45 306.8 232.45 307.3 232.45 307.8 232.45 308.3 232.45 308.8 232.45 309.3 232.45 309.8 232.45 310.3 232.45 310.8 232.45 311.3 232.45 311.8 232.46 312.3 232.46 312.8 232.46 313.3 232.46 313.8 232.46 314.3 232.46 314.8 232.46 315.3 232.46 315.8 232.47 316.3 232.47 316.8 232.47 317.3 232.47 317.8 232.47 318.3 232.48 318.8 232.48 319.3 232.48 319.8 232.48 320.3 232.49 320.8 232.49 321.3 232.49 321.8 232.5 322.3 232.5 322.8 232.5 323.3 232.5 323.8 232.51 324.3 232.51 332.3 232.52 332.8 232.51 333.3 232.5 333.8 232.48 334.3 232.47 334.8 232.45 335.3 232.42 335.8 232.4 336.3 232.37 336.8 232.34 337.3 232.31 337.8 232.29 338.3 232.26 338.8 232.23 339.3 232.2 339.8 232.18 340.3 232.17 340.8 232.15 341.3 232.15 341.8 232.15 342.3 232.15 342.8 232.17 343.3 232.19 343.8 232.22 344.3 232.26 344.8 232.31 345.3 232.35 345.8 232.38 346.3 232.39 346.8 232.38 347.3 232.34 347.8 232.26 348.3 232.14 348.8 231.96 349.3 231.73 349.8 231.43 350.3 231.06 350.8 230.62 351.3 230.09 351.8 229.47 352.3 228.77 352.8 227.98 353.3 227.11 353.8 226.15 354.3 225.11 354.8 223.99 355.3 222.8 355.8 221.57 356.3 220.29 356.8 219 357.3 217.71 357.8 216.43 358.3 215.17 358.8 213.95 359.3 212.74 359.8 211.57 360.3 210.41 360.8 209.28 361.3 208.17 361.8 207.13 362.3 206.2 362.8 205.45 363.3 204.97 363.8 204.81 364.3 205 364.8 205.55 365.3 206.4 365.8 207.52 366.3 208.84 366.8 210.3 367.3 211.87 367.8 213.49 368.3 215.14 368.8 216.79 369.3 218.39 369.8 219.93 370.3 221.38 370.8 222.75 371.3 224.01 371.8 225.18 372.3 226.23 372.8 227.17 373.3 227.99 373.8 228.7 374.3 229.31 374.8 229.83 375.3 230.27 375.8 230.65 376.3 230.97 376.8 231.24 377.3 231.48 377.8 231.68 378.3 231.86 378.8 232.01 379.3 232.14 379.8 232.26 380.3 232.37 380.8 232.47 381.3 232.52 612.8 232.52" fill="none" stroke="#000" stroke-width="1.05" stroke-linejoin="round"/>
<path d="M278.8 247.97L278.8 247.97 320.3 247.97 320.8 247.94 321.3 247.89 321.8 247.84 322.3 247.79 322.8 247.73 323.3 247.67 323.8 247.59 324.3 247.51 324.8 247.42 325.3 247.32 325.8 247.21 326.3 247.09 326.8 246.95 327.3 246.8 327.8 246.64 328.3 246.47 328.8 246.29 329.3 246.1 329.8 245.92 330.3 245.74 330.8 245.58 331.3 245.43 331.8 245.3 332.3 245.19 332.8 245.12 333.3 245.08 333.8 245.06 334.3 245.08 334.8 245.11 335.3 245.16 335.8 245.21 336.3 245.26 336.8 245.29 337.3 245.31 337.8 245.3 338.3 245.25 338.8 245.15 339.3 245.01 339.8 244.81 340.3 244.53 340.8 244.18 341.3 243.75 341.8 243.22 342.3 242.58 342.8 241.85 343.3 241.02 343.8 240.11 344.3 239.15 344.8 238.16 345.3 237.18 345.8 236.24 346.3 235.34 346.8 234.51 347.3 233.76 347.8 233.09 348.3 232.52 348.8 232.03 349.3 231.64 349.8 231.35 350.3 231.17 350.8 231.09 351.3 231.12 351.8 231.24 352.3 231.46 352.8 231.76 353.3 232.11 353.8 232.52 354.3 232.96 354.8 233.41 355.3 233.88 355.8 234.33 356.3 234.78 356.8 235.2 357.3 235.61 357.8 236 358.3 236.37 358.8 236.71 359.3 237.03 359.8 237.31 360.3 237.57 360.8 237.8 361.3 238.01 361.8 238.2 362.3 238.38 362.8 238.56 363.3 238.75 363.8 238.94 364.3 239.15 364.8 239.39 365.3 239.66 365.8 239.97 366.3 240.32 366.8 240.72 367.3 241.18 367.8 241.68 368.3 242.22 368.8 242.78 369.3 243.34 369.8 243.88 370.3 244.38 370.8 244.83 371.3 245.23 371.8 245.57 372.3 245.86 372.8 246.12 373.3 246.34 373.8 246.54 374.3 246.73 374.8 246.9 375.3 247.05 375.8 247.2 376.3 247.33 376.8 247.45 377.3 247.55 377.8 247.65 378.3 247.73 378.8 247.79 379.3 247.86 379.8 247.91 380.3 247.97 612.8 247.97L612.8 247.97Z" fill="#FF0000"/>
<path d="M278.8 247.97 320.3 247.97 320.8 247.94 321.3 247.89 321.8 247.84 322.3 247.79 322.8 247.73 323.3 247.67 323.8 247.59 324.3 247.51 324.8 247.42 325.3 247.32 325.8 247.21 326.3 247.09 326.8 246.95 327.3 246.8 327.8 246.64 328.3 246.47 328.8 246.29 329.3 246.1 329.8 245.92 330.3 245.74 330.8 245.58 331.3 245.43 331.8 245.3 332.3 245.19 332.8 245.12 333.3 245.08 333.8 245.06 334.3 245.08 334.8 245.11 335.3 245.16 335.8 245.21 336.3 245.26 336.8 245.29 337.3 245.31 337.8 245.3 338.3 245.25 338.8 245.15 339.3 245.01 339.8 244.81 340.3 244.53 340.8 244.18 341.3 243.75 341.8 243.22 342.3 242.58 342.8 241.85 343.3 241.02 343.8 240.11 344.3 239.15 344.8 238.16 345.3 237.18 345.8 236.24 346.3 235.34 346.8 234.51 347.3 233.76 347.8 233.09 348.3 232.52 348.8 232.03 349.3 231.64 349.8 231.35 350.3 231.17 350.8 231.09 351.3 231.12 351.8 231.24 352.3 231.46 352.8 231.76 353.3 232.11 353.8 232.52 354.3 232.96 354.8 233.41 355.3 233.88 355.8 234.33 356.3 234.78 356.8 235.2 357.3 235.61 357.8 236 358.3 236.37 358.8 236.71 359.3 237.03 359.8 237.31 360.3 237.57 360.8 237.8 361.3 238.01 361.8 238.2 362.3 238.38 362.8 238.56 363.3 238.75 363.8 238.94 364.3 239.15 364.8 239.39 365.3 239.66 365.8 239.97 366.3 240.32 366.8 240.72 367.3 241.18 367.8 241.68 368.3 242.22 368.8 242.78 369.3 243.34 369.8 243.88 370.3 244.38 370.8 244.83 371.3 245.23 371.8 245.57 372.3 245.86 372.8 246.12 373.3 246.34 373.8 246.54 374.3 246.73 374.8 246.9 375.3 247.05 375.8 247.2 376.3 247.33 376.8 247.45 377.3 247.55 377.8 247.65 378.3 247.73 378.8 247.79 379.3 247.86 379.8 247.91 380.3 247.97 612.8 247.97" fill="none" stroke="#000" stroke-width="1.05" stroke-linejoin="round"/>
<path d="M278.8 263.43L278.8 263.43 340.3 263.43 340.8 263.41 341.3 263.39 341.8 263.37 342.3 263.35 342.8 263.32 343.3 263.3 343.8 263.29 344.3 263.27 344.8 263.26 345.3 263.25 345.8 263.24 346.3 263.23 346.8 263.23 347.3 263.21 347.8 263.17 348.3 263.1 348.8 262.98 349.3 262.82 349.8 262.6 350.3 262.3 350.8 261.93 351.3 261.46 351.8 260.9 352.3 260.23 352.8 259.45 353.3 258.56 353.8 257.54 354.3 256.41 354.8 255.16 355.3 253.81 355.8 252.38 356.3 250.92 356.8 249.44 357.3 247.97 357.8 246.55 358.3 245.19 358.8 243.89 359.3 242.65 359.8 241.48 360.3 240.35 360.8 239.28 361.3 238.3 361.8 237.43 362.3 236.73 362.8 236.26 363.3 236.07 363.8 236.19 364.3 236.62 364.8 237.33 365.3 238.28 365.8 239.42 366.3 240.67 366.8 242.01 367.3 243.39 367.8 244.81 368.3 246.24 368.8 247.69 369.3 249.15 369.8 250.6 370.3 252.04 370.8 253.44 371.3 254.79 371.8 256.06 372.3 257.25 372.8 258.32 373.3 259.26 373.8 260.09 374.3 260.79 374.8 261.38 375.3 261.86 375.8 262.26 376.3 262.58 376.8 262.83 377.3 263.02 377.8 263.16 378.3 263.26 378.8 263.33 379.3 263.38 379.8 263.42 612.8 263.43L612.8 263.43Z" fill="#C8FF00"/>
<path d="M278.8 263.43 340.3 263.43 340.8 263.41 341.3 263.39 341.8 263.37 342.3 263.35 342.8 263.32 343.3 263.3 343.8 263.29 344.3 263.27 344.8 263.26 345.3 263.25 345.8 263.24 346.3 263.23 346.8 263.23 347.3 263.21 347.8 263.17 348.3 263.1 348.8 262.98 349.3 262.82 349.8 262.6 350.3 262.3 350.8 261.93 351.3 261.46 351.8 260.9 352.3 260.23 352.8 259.45 353.3 258.56 353.8 257.54 354.3 256.41 354.8 255.16 355.3 253.81 355.8 252.38 356.3 250.92 356.8 249.44 357.3 247.97 357.8 246.55 358.3 245.19 358.8 243.89 359.3 242.65 359.8 241.48 360.3 240.35 360.8 239.28 361.3 238.3 361.8 237.43 362.3 236.73 362.8 236.26 363.3 236.07 363.8 236.19 364.3 236.62 364.8 237.33 365.3 238.28 365.8 239.42 366.3 240.67 366.8 242.01 367.3 243.39 367.8 244.81 368.3 246.24 368.8 247.69 369.3 249.15 369.8 250.6 370.3 252.04 370.8 253.44 371.3 254.79 371.8 256.06 372.3 257.25 372.8 258.32 373.3 259.26 373.8 260.09 374.3 260.79 374.8 261.38 375.3 261.86 375.8 262.26 376.3 262.58 376.8 262.83 377.3 263.02 377.8 263.16 378.3 263.26 378.8 263.33 379.3 263.38 379.8 263.42 612.8 263.43" fill="none" stroke="#000" stroke-width="1.05" stroke-linejoin="round"/>
<path d="M278.8 278.88L278.8 278.88 330.3 278.88 330.8 278.87 331.3 278.85 331.8 278.83 332.3 278.81 332.8 278.78 333.3 278.76 333.8 278.73 334.3 278.69 334.8 278.65 335.3 278.61 335.8 278.57 336.3 278.52 336.8 278.47 337.3 278.42 337.8 278.37 338.3 278.33 338.8 278.28 339.3 278.23 339.8 278.19 340.3 278.15 340.8 278.12 341.3 278.09 341.8 278.07 342.3 278.05 342.8 278.04 343.3 278.03 343.8 278.02 344.3 278.02 344.8 278.02 345.3 278.03 345.8 278.03 346.3 278.04 346.8 278.05 347.3 278.05 347.8 278.06 348.3 278.07 348.8 278.08 349.3 278.09 349.8 278.09 350.3 278.09 350.8 278.07 351.3 278.05 351.8 278 352.3 277.93 352.8 277.82 353.3 277.68 353.8 277.5 354.3 277.27 354.8 276.99 355.3 276.66 355.8 276.26 356.3 275.8 356.8 275.27 357.3 274.68 357.8 274.01 358.3 273.28 358.8 272.48 359.3 271.61 359.8 270.67 360.3 269.66 360.8 268.59 361.3 267.48 361.8 266.33 362.3 265.18 362.8 264.04 363.3 262.94 363.8 261.88 364.3 260.87 364.8 259.94 365.3 259.08 365.8 258.3 366.3 257.6 366.8 257 367.3 256.49 367.8 256.09 368.3 255.82 368.8 255.69 369.3 255.72 369.8 255.92 370.3 256.29 370.8 256.81 371.3 257.49 371.8 258.29 372.3 259.21 372.8 260.24 373.3 261.35 373.8 262.53 374.3 263.76 374.8 265.01 375.3 266.28 375.8 267.54 376.3 268.78 376.8 269.99 377.3 271.14 377.8 272.23 378.3 273.25 378.8 274.17 379.3 275 379.8 275.74 380.3 276.38 380.8 276.92 381.3 277.39 381.8 277.77 382.3 278.08 382.8 278.33 383.3 278.51 383.8 278.65 384.3 278.74 384.8 278.81 385.3 278.85 385.8 278.88 612.8 278.88L612.8 278.88Z" fill="#FF0000"/>
<path d="M278.8 278.88 330.3 278.88 330.8 278.87 331.3 278.85 331.8 278.83 332.3 278.81 332.8 278.78 333.3 278.76 333.8 278.73 334.3 278.69 334.8 278.65 335.3 278.61 335.8 278.57 336.3 278.52 336.8 278.47 337.3 278.42 337.8 278.37 338.3 278.33 338.8 278.28 339.3 278.23 339.8 278.19 340.3 278.15 340.8 278.12 341.3 278.09 341.8 278.07 342.3 278.05 342.8 278.04 343.3 278.03 343.8 278.02 344.3 278.02 344.8 278.02 345.3 278.03 345.8 278.03 346.3 278.04 346.8 278.05 347.3 278.05 347.8 278.06 348.3 278.07 348.8 278.08 349.3 278.09 349.8 278.09 350.3 278.09 350.8 278.07 351.3 278.05 351.8 278 352.3 277.93 352.8 277.82 353.3 277.68 353.8 277.5 354.3 277.27 354.8 276.99 355.3 276.66 355.8 276.26 356.3 275.8 356.8 275.27 357.3 274.68 357.8 274.01 358.3 273.28 358.8 272.48 359.3 271.61 359.8 270.67 360.3 269.66 360.8 268.59 361.3 267.48 361.8 266.33 362.3 265.18 362.8 264.04 363.3 262.94 363.8 261.88 364.3 260.87 364.8 259.94 365.3 259.08 365.8 258.3 366.3 257.6 366.8 257 367.3 256.49 367.8 256.09 368.3 255.82 368.8 255.69 369.3 255.72 369.8 255.92 370.3 256.29 370.8 256.81 371.3 257.49 371.8 258.29 372.3 259.21 372.8 260.24 373.3 261.35 373.8 262.53 374.3 263.76 374.8 265.01 375.3 266.28 375.8 267.54 376.3 268.78 376.8 269.99 377.3 271.14 377.8 272.23 378.3 273.25 378.8 274.17 379.3 275 379.8 275.74 380.3 276.38 380.8 276.92 381.3 277.39 381.8 277.77 382.3 278.08 382.8 278.33 383.3 278.51 383.8 278.65 384.3 278.74 384.8 278.81 385.3 278.85 385.8 278.88 612.8 278.88" fill="none" stroke="#000" stroke-width="1.05" stroke-linejoin="round"/>
<path d="M278.8 294.34L278.8 294.34 333.8 294.33 334.3 294.32 334.8 294.31 335.3 294.29 335.8 294.27 336.3 294.25 336.8 294.22 337.3 294.19 337.8 294.15 338.3 294.1 338.8 294.04 339.3 293.98 339.8 293.9 340.3 293.8 340.8 293.69 341.3 293.57 341.8 293.42 342.3 293.26 342.8 293.08 343.3 292.88 343.8 292.67 344.3 292.44 344.8 292.19 345.3 291.93 345.8 291.65 346.3 291.35 346.8 291.02 347.3 290.66 347.8 290.26 348.3 289.83 348.8 289.35 349.3 288.83 349.8 288.26 350.3 287.65 350.8 286.98 351.3 286.28 351.8 285.52 352.3 284.71 352.8 283.86 353.3 282.97 353.8 282.03 354.3 281.08 354.8 280.11 355.3 279.16 355.8 278.23 356.3 277.35 356.8 276.53 357.3 275.77 357.8 275.09 358.3 274.48 358.8 273.95 359.3 273.49 359.8 273.12 360.3 272.83 360.8 272.64 361.3 272.55 361.8 272.58 362.3 272.73 362.8 273.01 363.3 273.42 363.8 273.94 364.3 274.59 364.8 275.35 365.3 276.19 365.8 277.12 366.3 278.1 366.8 279.11 367.3 280.14 367.8 281.18 368.3 282.21 368.8 283.23 369.3 284.23 369.8 285.22 370.3 286.18 370.8 287.11 371.3 288.01 371.8 288.87 372.3 289.67 372.8 290.42 373.3 291.1 373.8 291.7 374.3 292.23 374.8 292.67 375.3 293.04 375.8 293.34 376.3 293.58 376.8 293.77 377.3 293.92 377.8 294.04 378.3 294.13 378.8 294.19 379.3 294.24 379.8 294.28 380.3 294.31 380.8 294.33 612.8 294.34L612.8 294.34Z" fill="#FF0000"/>
<path d="M278.8 294.34 333.8 294.33 334.3 294.32 334.8 294.31 335.3 294.29 335.8 294.27 336.3 294.25 336.8 294.22 337.3 294.19 337.8 294.15 338.3 294.1 338.8 294.04 339.3 293.98 339.8 293.9 340.3 293.8 340.8 293.69 341.3 293.57 341.8 293.42 342.3 293.26 342.8 293.08 343.3 292.88 343.8 292.67 344.3 292.44 344.8 292.19 345.3 291.93 345.8 291.65 346.3 291.35 346.8 291.02 347.3 290.66 347.8 290.26 348.3 289.83 348.8 289.35 349.3 288.83 349.8 288.26 350.3 287.65 350.8 286.98 351.3 286.28 351.8 285.52 352.3 284.71 352.8 283.86 353.3 282.97 353.8 282.03 354.3 281.08 354.8 280.11 355.3 279.16 355.8 278.23 356.3 277.35 356.8 276.53 357.3 275.77 357.8 275.09 358.3 274.48 358.8 273.95 359.3 273.49 359.8 273.12 360.3 272.83 360.8 272.64 361.3 272.55 361.8 272.58 362.3 272.73 362.8 273.01 363.3 273.42 363.8 273.94 364.3 274.59 364.8 275.35 365.3 276.19 365.8 277.12 366.3 278.1 366.8 279.11 367.3 280.14 367.8 281.18 368.3 282.21 368.8 283.23 369.3 284.23 369.8 285.22 370.3 286.18 370.8 287.11 371.3 288.01 371.8 288.87 372.3 289.67 372.8 290.42 373.3 291.1 373.8 291.7 374.3 292.23 374.8 292.67 375.3 293.04 375.8 293.34 376.3 293.58 376.8 293.77 377.3 293.92 377.8 294.04 378.3 294.13 378.8 294.19 379.3 294.24 379.8 294.28 380.3 294.31 380.8 294.33 612.8 294.34" fill="none" stroke="#000" stroke-width="1.05" stroke-linejoin="round"/>
<path d="M278.8 309.79L278.8 309.79 320.3 309.79 320.8 309.78 321.3 309.76 321.8 309.75 322.3 309.72 322.8 309.69 323.3 309.65 323.8 309.61 324.3 309.55 324.8 309.48 325.3 309.4 325.8 309.3 326.3 309.19 326.8 309.07 327.3 308.93 327.8 308.78 328.3 308.63 328.8 308.47 329.3 308.32 329.8 308.17 330.3 308.03 330.8 307.9 331.3 307.8 331.8 307.71 332.3 307.66 332.8 307.63 333.3 307.63 333.8 307.65 334.3 307.69 334.8 307.74 335.3 307.79 335.8 307.83 336.3 307.87 336.8 307.9 337.3 307.91 337.8 307.91 338.3 307.88 338.8 307.84 339.3 307.77 339.8 307.68 340.3 307.55 340.8 307.39 341.3 307.19 341.8 306.94 342.3 306.64 342.8 306.28 343.3 305.87 343.8 305.39 344.3 304.85 344.8 304.25 345.3 303.6 345.8 302.89 346.3 302.13 346.8 301.33 347.3 300.49 347.8 299.62 348.3 298.72 348.8 297.81 349.3 296.9 349.8 296.01 350.3 295.15 350.8 294.32 351.3 293.55 351.8 292.84 352.3 292.19 352.8 291.6 353.3 291.06 353.8 290.58 354.3 290.14 354.8 289.75 355.3 289.41 355.8 289.13 356.3 288.92 356.8 288.82 357.3 288.82 357.8 288.96 358.3 289.22 358.8 289.6 359.3 290.09 359.8 290.69 360.3 291.39 360.8 292.17 361.3 293.02 361.8 293.94 362.3 294.89 362.8 295.88 363.3 296.89 363.8 297.89 364.3 298.9 364.8 299.88 365.3 300.84 365.8 301.77 366.3 302.66 366.8 303.51 367.3 304.3 367.8 305.04 368.3 305.71 368.8 306.33 369.3 306.88 369.8 307.38 370.3 307.81 370.8 308.18 371.3 308.5 371.8 308.76 372.3 308.97 372.8 309.14 373.3 309.28 373.8 309.39 374.3 309.47 374.8 309.54 375.3 309.6 375.8 309.65 376.3 309.7 376.8 309.74 377.3 309.79 612.8 309.79L612.8 309.79Z" fill="#C8FF00"/>
<path d="M278.8 309.79 320.3 309.79 320.8 309.78 321.3 309.76 321.8 309.75 322.3 309.72 322.8 309.69 323.3 309.65 323.8 309.61 324.3 309.55 324.8 309.48 325.3 309.4 325.8 309.3 326.3 309.19 326.8 309.07 327.3 308.93 327.8 308.78 328.3 308.63 328.8 308.47 329.3 308.32 329.8 308.17 330.3 308.03 330.8 307.9 331.3 307.8 331.8 307.71 332.3 307.66 332.8 307.63 333.3 307.63 333.8 307.65 334.3 307.69 334.8 307.74 335.3 307.79 335.8 307.83 336.3 307.87 336.8 307.9 337.3 307.91 337.8 307.91 338.3 307.88 338.8 307.84 339.3 307.77 339.8 307.68 340.3 307.55 340.8 307.39 341.3 307.19 341.8 306.94 342.3 306.64 342.8 306.28 343.3 305.87 343.8 305.39 344.3 304.85 344.8 304.25 345.3 303.6 345.8 302.89 346.3 302.13 346.8 301.33 347.3 300.49 347.8 299.62 348.3 298.72 348.8 297.81 349.3 296.9 349.8 296.01 350.3 295.15 350.8 294.32 351.3 293.55 351.8 292.84 352.3 292.19 352.8 291.6 353.3 291.06 353.8 290.58 354.3 290.14 354.8 289.75 355.3 289.41 355.8 289.13 356.3 288.92 356.8 288.82 357.3 288.82 357.8 288.96 358.3 289.22 358.8 289.6 359.3 290.09 359.8 290.69 360.3 291.39 360.8 292.17 361.3 293.02 361.8 293.94 362.3 294.89 362.8 295.88 363.3 296.89 363.8 297.89 364.3 298.9 364.8 299.88 365.3 300.84 365.8 301.77 366.3 302.66 366.8 303.51 367.3 304.3 367.8 305.04 368.3 305.71 368.8 306.33 369.3 306.88 369.8 307.38 370.3 307.81 370.8 308.18 371.3 308.5 371.8 308.76 372.3 308.97 372.8 309.14 373.3 309.28 373.8 309.39 374.3 309.47 374.8 309.54 375.3 309.6 375.8 309.65 376.3 309.7 376.8 309.74 377.3 309.79 612.8 309.79" fill="none" stroke="#000" stroke-width="1.05" stroke-linejoin="round"/>
<path d="M278.8 325.25L278.8 325.25 279.3 325.25 279.8 325.24 280.3 325.22 280.8 325.19 281.3 325.15 281.8 325.11 282.3 325.06 282.8 325.01 283.3 324.94 283.8 324.88 284.3 324.81 284.8 324.74 285.3 324.66 285.8 324.59 286.3 324.51 286.8 324.44 287.3 324.36 287.8 324.29 288.3 324.23 288.8 324.17 289.3 324.12 289.8 324.08 290.3 324.05 290.8 324.03 291.3 324.03 291.8 324.04 292.3 324.07 292.8 324.11 293.3 324.17 293.8 324.23 294.3 324.31 294.8 324.39 295.3 324.47 295.8 324.55 296.3 324.63 296.8 324.71 297.3 324.78 297.8 324.85 298.3 324.91 298.8 324.97 299.3 325.02 299.8 325.07 300.3 325.11 300.8 325.15 301.3 325.19 301.8 325.23 302.3 325.25 328.3 325.25 328.8 325.24 329.3 325.22 329.8 325.19 330.3 325.16 330.8 325.11 331.3 325.06 331.8 325 332.3 324.93 332.8 324.85 333.3 324.76 333.8 324.67 334.3 324.57 334.8 324.47 335.3 324.36 335.8 324.27 336.3 324.19 336.8 324.12 337.3 324.08 337.8 324.06 338.3 324.06 338.8 324.09 339.3 324.14 339.8 324.21 340.3 324.28 340.8 324.35 341.3 324.41 341.8 324.46 342.3 324.49 342.8 324.49 343.3 324.45 343.8 324.38 344.3 324.26 344.8 324.09 345.3 323.86 345.8 323.57 346.3 323.22 346.8 322.81 347.3 322.35 347.8 321.83 348.3 321.27 348.8 320.65 349.3 319.99 349.8 319.28 350.3 318.54 350.8 317.76 351.3 316.95 351.8 316.12 352.3 315.26 352.8 314.39 353.3 313.52 353.8 312.65 354.3 311.81 354.8 310.99 355.3 310.21 355.8 309.47 356.3 308.79 356.8 308.15 357.3 307.55 357.8 307 358.3 306.5 358.8 306.03 359.3 305.61 359.8 305.24 360.3 304.92 360.8 304.68 361.3 304.51 361.8 304.44 362.3 304.47 362.8 304.61 363.3 304.86 363.8 305.23 364.3 305.71 364.8 306.3 365.3 307.01 365.8 307.82 366.3 308.73 366.8 309.72 367.3 310.76 367.8 311.84 368.3 312.94 368.8 314.05 369.3 315.13 369.8 316.2 370.3 317.22 370.8 318.19 371.3 319.1 371.8 319.94 372.3 320.7 372.8 321.39 373.3 322 373.8 322.53 374.3 323 374.8 323.4 375.3 323.75 375.8 324.04 376.3 324.28 376.8 324.47 377.3 324.63 377.8 324.75 378.3 324.85 378.8 324.92 379.3 324.98 379.8 325.04 380.3 325.08 380.8 325.12 381.3 325.16 381.8 325.2 382.3 325.24 612.8 325.25L612.8 325.25Z" fill="#FF0000"/>
<path d="M278.8 325.25 279.3 325.25 279.8 325.24 280.3 325.22 280.8 325.19 281.3 325.15 281.8 325.11 282.3 325.06 282.8 325.01 283.3 324.94 283.8 324.88 284.3 324.81 284.8 324.74 285.3 324.66 285.8 324.59 286.3 324.51 286.8 324.44 287.3 324.36 287.8 324.29 288.3 324.23 288.8 324.17 289.3 324.12 289.8 324.08 290.3 324.05 290.8 324.03 291.3 324.03 291.8 324.04 292.3 324.07 292.8 324.11 293.3 324.17 293.8 324.23 294.3 324.31 294.8 324.39 295.3 324.47 295.8 324.55 296.3 324.63 296.8 324.71 297.3 324.78 297.8 324.85 298.3 324.91 298.8 324.97 299.3 325.02 299.8 325.07 300.3 325.11 300.8 325.15 301.3 325.19 301.8 325.23 302.3 325.25 328.3 325.25 328.8 325.24 329.3 325.22 329.8 325.19 330.3 325.16 330.8 325.11 331.3 325.06 331.8 325 332.3 324.93 332.8 324.85 333.3 324.76 333.8 324.67 334.3 324.57 334.8 324.47 335.3 324.36 335.8 324.27 336.3 324.19 336.8 324.12 337.3 324.08 337.8 324.06 338.3 324.06 338.8 324.09 339.3 324.14 339.8 324.21 340.3 324.28 340.8 324.35 341.3 324.41 341.8 324.46 342.3 324.49 342.8 324.49 343.3 324.45 343.8 324.38 344.3 324.26 344.8 324.09 345.3 323.86 345.8 323.57 346.3 323.22 346.8 322.81 347.3 322.35 347.8 321.83 348.3 321.27 348.8 320.65 349.3 319.99 349.8 319.28 350.3 318.54 350.8 317.76 351.3 316.95 351.8 316.12 352.3 315.26 352.8 314.39 353.3 313.52 353.8 312.65 354.3 311.81 354.8 310.99 355.3 310.21 355.8 309.47 356.3 308.79 356.8 308.15 357.3 307.55 357.8 307 358.3 306.5 358.8 306.03 359.3 305.61 359.8 305.24 360.3 304.92 360.8 304.68 361.3 304.51 361.8 304.44 362.3 304.47 362.8 304.61 363.3 304.86 363.8 305.23 364.3 305.71 364.8 306.3 365.3 307.01 365.8 307.82 366.3 308.73 366.8 309.72 367.3 310.76 367.8 311.84 368.3 312.94 368.8 314.05 369.3 315.13 369.8 316.2 370.3 317.22 370.8 318.19 371.3 319.1 371.8 319.94 372.3 320.7 372.8 321.39 373.3 322 373.8 322.53 374.3 323 374.8 323.4 375.3 323.75 375.8 324.04 376.3 324.28 376.8 324.47 377.3 324.63 377.8 324.75 378.3 324.85 378.8 324.92 379.3 324.98 379.8 325.04 380.3 325.08 380.8 325.12 381.3 325.16 381.8 325.2 382.3 325.24 612.8 325.25" fill="none" stroke="#000" stroke-width="1.05" stroke-linejoin="round"/>
<path d="M278.8 340.7L278.8 340.7 334.3 340.7 334.8 340.68 335.3 340.66 335.8 340.63 336.3 340.6 336.8 340.58 337.3 340.56 337.8 340.54 338.3 340.52 338.8 340.51 339.3 340.51 339.8 340.5 340.3 340.49 340.8 340.47 341.3 340.44 341.8 340.38 342.3 340.3 342.8 340.18 343.3 340.01 343.8 339.8 344.3 339.54 344.8 339.22 345.3 338.84 345.8 338.39 346.3 337.86 346.8 337.27 347.3 336.6 347.8 335.85 348.3 335.03 348.8 334.15 349.3 333.22 349.8 332.24 350.3 331.23 350.8 330.21 351.3 329.17 351.8 328.12 352.3 327.09 352.8 326.07 353.3 325.08 353.8 324.12 354.3 323.21 354.8 322.34 355.3 321.54 355.8 320.8 356.3 320.12 356.8 319.52 357.3 319.01 357.8 318.57 358.3 318.24 358.8 318.01 359.3 317.89 359.8 317.9 360.3 318.03 360.8 318.29 361.3 318.67 361.8 319.17 362.3 319.78 362.8 320.5 363.3 321.31 363.8 322.2 364.3 323.17 364.8 324.19 365.3 325.26 365.8 326.35 366.3 327.46 366.8 328.56 367.3 329.66 367.8 330.72 368.3 331.76 368.8 332.75 369.3 333.69 369.8 334.56 370.3 335.37 370.8 336.11 371.3 336.78 371.8 337.38 372.3 337.92 372.8 338.39 373.3 338.8 373.8 339.16 374.3 339.47 374.8 339.73 375.3 339.94 375.8 340.12 376.3 340.26 376.8 340.37 377.3 340.46 377.8 340.53 378.3 340.58 378.8 340.63 379.3 340.66 379.8 340.68 380.3 340.7 612.8 340.7L612.8 340.7Z" fill="#FF0000"/>
<path d="M278.8 340.7 334.3 340.7 334.8 340.68 335.3 340.66 335.8 340.63 336.3 340.6 336.8 340.58 337.3 340.56 337.8 340.54 338.3 340.52 338.8 340.51 339.3 340.51 339.8 340.5 340.3 340.49 340.8 340.47 341.3 340.44 341.8 340.38 342.3 340.3 342.8 340.18 343.3 340.01 343.8 339.8 344.3 339.54 344.8 339.22 345.3 338.84 345.8 338.39 346.3 337.86 346.8 337.27 347.3 336.6 347.8 335.85 348.3 335.03 348.8 334.15 349.3 333.22 349.8 332.24 350.3 331.23 350.8 330.21 351.3 329.17 351.8 328.12 352.3 327.09 352.8 326.07 353.3 325.08 353.8 324.12 354.3 323.21 354.8 322.34 355.3 321.54 355.8 320.8 356.3 320.12 356.8 319.52 357.3 319.01 357.8 318.57 358.3 318.24 358.8 318.01 359.3 317.89 359.8 317.9 360.3 318.03 360.8 318.29 361.3 318.67 361.8 319.17 362.3 319.78 362.8 320.5 363.3 321.31 363.8 322.2 364.3 323.17 364.8 324.19 365.3 325.26 365.8 326.35 366.3 327.46 366.8 328.56 367.3 329.66 367.8 330.72 368.3 331.76 368.8 332.75 369.3 333.69 369.8 334.56 370.3 335.37 370.8 336.11 371.3 336.78 371.8 337.38 372.3 337.92 372.8 338.39 373.3 338.8 373.8 339.16 374.3 339.47 374.8 339.73 375.3 339.94 375.8 340.12 376.3 340.26 376.8 340.37 377.3 340.46 377.8 340.53 378.3 340.58 378.8 340.63 379.3 340.66 379.8 340.68 380.3 340.7 612.8 340.7" fill="none" stroke="#000" stroke-width="1.05" stroke-linejoin="round"/>
<path d="M278.8 356.16L278.8 356.16 322.3 356.16 322.8 356.15 323.3 356.13 323.8 356.12 324.3 356.1 324.8 356.08 325.3 356.06 325.8 356.04 326.3 356.02 326.8 355.99 327.3 355.97 327.8 355.94 328.3 355.91 328.8 355.87 329.3 355.84 329.8 355.8 330.3 355.75 330.8 355.7 331.3 355.64 331.8 355.58 332.3 355.51 332.8 355.43 333.3 355.34 333.8 355.25 334.3 355.15 334.8 355.04 335.3 354.93 335.8 354.82 336.3 354.71 336.8 354.6 337.3 354.49 337.8 354.39 338.3 354.3 338.8 354.21 339.3 354.13 339.8 354.07 340.3 354 340.8 353.94 341.3 353.88 341.8 353.81 342.3 353.73 342.8 353.64 343.3 353.53 343.8 353.4 344.3 353.24 344.8 353.05 345.3 352.83 345.8 352.57 346.3 352.26 346.8 351.9 347.3 351.49 347.8 351.01 348.3 350.47 348.8 349.85 349.3 349.18 349.8 348.45 350.3 347.68 350.8 346.88 351.3 346.06 351.8 345.23 352.3 344.4 352.8 343.58 353.3 342.78 353.8 342.01 354.3 341.26 354.8 340.56 355.3 339.89 355.8 339.27 356.3 338.7 356.8 338.18 357.3 337.71 357.8 337.29 358.3 336.92 358.8 336.6 359.3 336.35 359.8 336.16 360.3 336.06 360.8 336.05 361.3 336.13 361.8 336.33 362.3 336.62 362.8 337.02 363.3 337.52 363.8 338.12 364.3 338.81 364.8 339.59 365.3 340.43 365.8 341.34 366.3 342.29 366.8 343.26 367.3 344.25 367.8 345.24 368.3 346.23 368.8 347.19 369.3 348.12 369.8 349.02 370.3 349.87 370.8 350.67 371.3 351.4 371.8 352.08 372.3 352.69 372.8 353.25 373.3 353.74 373.8 354.17 374.3 354.55 374.8 354.87 375.3 355.14 375.8 355.36 376.3 355.54 376.8 355.69 377.3 355.8 377.8 355.9 378.3 355.97 378.8 356.03 379.3 356.08 379.8 356.12 380.3 356.16 612.8 356.16L612.8 356.16Z" fill="#FF0000"/>
<path d="M278.8 356.16 322.3 356.16 322.8 356.15 323.3 356.13 323.8 356.12 324.3 356.1 324.8 356.08 325.3 356.06 325.8 356.04 326.3 356.02 326.8 355.99 327.3 355.97 327.8 355.94 328.3 355.91 328.8 355.87 329.3 355.84 329.8 355.8 330.3 355.75 330.8 355.7 331.3 355.64 331.8 355.58 332.3 355.51 332.8 355.43 333.3 355.34 333.8 355.25 334.3 355.15 334.8 355.04 335.3 354.93 335.8 354.82 336.3 354.71 336.8 354.6 337.3 354.49 337.8 354.39 338.3 354.3 338.8 354.21 339.3 354.13 339.8 354.07 340.3 354 340.8 353.94 341.3 353.88 341.8 353.81 342.3 353.73 342.8 353.64 343.3 353.53 343.8 353.4 344.3 353.24 344.8 353.05 345.3 352.83 345.8 352.57 346.3 352.26 346.8 351.9 347.3 351.49 347.8 351.01 348.3 350.47 348.8 349.85 349.3 349.18 349.8 348.45 350.3 347.68 350.8 346.88 351.3 346.06 351.8 345.23 352.3 344.4 352.8 343.58 353.3 342.78 353.8 342.01 354.3 341.26 354.8 340.56 355.3 339.89 355.8 339.27 356.3 338.7 356.8 338.18 357.3 337.71 357.8 337.29 358.3 336.92 358.8 336.6 359.3 336.35 359.8 336.16 360.3 336.06 360.8 336.05 361.3 336.13 361.8 336.33 362.3 336.62 362.8 337.02 363.3 337.52 363.8 338.12 364.3 338.81 364.8 339.59 365.3 340.43 365.8 341.34 366.3 342.29 366.8 343.26 367.3 344.25 367.8 345.24 368.3 346.23 368.8 347.19 369.3 348.12 369.8 349.02 370.3 349.87 370.8 350.67 371.3 351.4 371.8 352.08 372.3 352.69 372.8 353.25 373.3 353.74 373.8 354.17 374.3 354.55 374.8 354.87 375.3 355.14 375.8 355.36 376.3 355.54 376.8 355.69 377.3 355.8 377.8 355.9 378.3 355.97 378.8 356.03 379.3 356.08 379.8 356.12 380.3 356.16 612.8 356.16" fill="none" stroke="#000" stroke-width="1.05" stroke-linejoin="round"/>
<path d="M278.8 371.61L278.8 371.61 320.3 371.61 320.8 371.59 321.3 371.57 321.8 371.55 322.3 371.52 322.8 371.48 323.3 371.42 323.8 371.36 324.3 371.29 324.8 371.21 325.3 371.11 325.8 371 326.3 370.89 326.8 370.76 327.3 370.63 327.8 370.5 328.3 370.36 328.8 370.22 329.3 370.09 329.8 369.96 330.3 369.85 330.8 369.75 331.3 369.67 331.8 369.6 332.3 369.55 332.8 369.51 333.3 369.5 333.8 369.49 334.3 369.5 334.8 369.51 335.3 369.52 335.8 369.53 336.3 369.54 336.8 369.53 337.3 369.5 337.8 369.46 338.3 369.39 338.8 369.3 339.3 369.16 339.8 368.99 340.3 368.77 340.8 368.49 341.3 368.15 341.8 367.73 342.3 367.23 342.8 366.66 343.3 366 343.8 365.28 344.3 364.52 344.8 363.73 345.3 362.95 345.8 362.17 346.3 361.44 346.8 360.75 347.3 360.1 347.8 359.51 348.3 358.97 348.8 358.48 349.3 358.05 349.8 357.66 350.3 357.34 350.8 357.08 351.3 356.91 351.8 356.84 352.3 356.86 352.8 356.97 353.3 357.17 353.8 357.43 354.3 357.74 354.8 358.08 355.3 358.44 355.8 358.8 356.3 359.15 356.8 359.47 357.3 359.77 357.8 360.03 358.3 360.24 358.8 360.4 359.3 360.48 359.8 360.51 360.3 360.46 360.8 360.36 361.3 360.22 361.8 360.04 362.3 359.84 362.8 359.63 363.3 359.43 363.8 359.24 364.3 359.09 364.8 358.98 365.3 358.93 365.8 358.95 366.3 359.06 366.8 359.26 367.3 359.56 367.8 359.95 368.3 360.42 368.8 360.97 369.3 361.59 369.8 362.26 370.3 362.97 370.8 363.71 371.3 364.46 371.8 365.21 372.3 365.94 372.8 366.64 373.3 367.29 373.8 367.9 374.3 368.46 374.8 368.96 375.3 369.41 375.8 369.8 376.3 370.15 376.8 370.44 377.3 370.69 377.8 370.9 378.3 371.06 378.8 371.2 379.3 371.3 379.8 371.39 380.3 371.45 380.8 371.51 381.3 371.55 381.8 371.58 382.3 371.61 612.8 371.61L612.8 371.61Z" fill="#FF0000"/>
<path d="M278.8 371.61 320.3 371.61 320.8 371.59 321.3 371.57 321.8 371.55 322.3 371.52 322.8 371.48 323.3 371.42 323.8 371.36 324.3 371.29 324.8 371.21 325.3 371.11 325.8 371 326.3 370.89 326.8 370.76 327.3 370.63 327.8 370.5 328.3 370.36 328.8 370.22 329.3 370.09 329.8 369.96 330.3 369.85 330.8 369.75 331.3 369.67 331.8 369.6 332.3 369.55 332.8 369.51 333.3 369.5 333.8 369.49 334.3 369.5 334.8 369.51 335.3 369.52 335.8 369.53 336.3 369.54 336.8 369.53 337.3 369.5 337.8 369.46 338.3 369.39 338.8 369.3 339.3 369.16 339.8 368.99 340.3 368.77 340.8 368.49 341.3 368.15 341.8 367.73 342.3 367.23 342.8 366.66 343.3 366 343.8 365.28 344.3 364.52 344.8 363.73 345.3 362.95 345.8 362.17 346.3 361.44 346.8 360.75 347.3 360.1 347.8 359.51 348.3 358.97 348.8 358.48 349.3 358.05 349.8 357.66 350.3 357.34 350.8 357.08 351.3 356.91 351.8 356.84 352.3 356.86 352.8 356.97 353.3 357.17 353.8 357.43 354.3 357.74 354.8 358.08 355.3 358.44 355.8 358.8 356.3 359.15 356.8 359.47 357.3 359.77 357.8 360.03 358.3 360.24 358.8 360.4 359.3 360.48 359.8 360.51 360.3 360.46 360.8 360.36 361.3 360.22 361.8 360.04 362.3 359.84 362.8 359.63 363.3 359.43 363.8 359.24 364.3 359.09 364.8 358.98 365.3 358.93 365.8 358.95 366.3 359.06 366.8 359.26 367.3 359.56 367.8 359.95 368.3 360.42 368.8 360.97 369.3 361.59 369.8 362.26 370.3 362.97 370.8 363.71 371.3 364.46 371.8 365.21 372.3 365.94 372.8 366.64 373.3 367.29 373.8 367.9 374.3 368.46 374.8 368.96 375.3 369.41 375.8 369.8 376.3 370.15 376.8 370.44 377.3 370.69 377.8 370.9 378.3 371.06 378.8 371.2 379.3 371.3 379.8 371.39 380.3 371.45 380.8 371.51 381.3 371.55 381.8 371.58 382.3 371.61 612.8 371.61" fill="none" stroke="#000" stroke-width="1.05" stroke-linejoin="round"/>
<path d="M278.8 387.07L278.8 387.07 325.3 387.07 325.8 387.05 326.3 387.03 326.8 387.01 327.3 386.99 327.8 386.97 328.3 386.94 328.8 386.92 329.3 386.89 329.8 386.87 330.3 386.84 330.8 386.81 331.3 386.77 331.8 386.74 332.3 386.7 332.8 386.65 333.3 386.6 333.8 386.54 334.3 386.48 334.8 386.4 335.3 386.32 335.8 386.23 336.3 386.13 336.8 386.02 337.3 385.9 337.8 385.78 338.3 385.65 338.8 385.52 339.3 385.38 339.8 385.24 340.3 385.09 340.8 384.95 341.3 384.8 341.8 384.66 342.3 384.51 342.8 384.34 343.3 384.16 343.8 383.95 344.3 383.71 344.8 383.44 345.3 383.11 345.8 382.73 346.3 382.3 346.8 381.81 347.3 381.25 347.8 380.63 348.3 379.94 348.8 379.18 349.3 378.35 349.8 377.47 350.3 376.54 350.8 375.59 351.3 374.65 351.8 373.72 352.3 372.83 352.8 371.99 353.3 371.21 353.8 370.5 354.3 369.85 354.8 369.26 355.3 368.72 355.8 368.24 356.3 367.81 356.8 367.45 357.3 367.14 357.8 366.91 358.3 366.75 358.8 366.68 359.3 366.7 359.8 366.81 360.3 367.01 360.8 367.3 361.3 367.67 361.8 368.12 362.3 368.66 362.8 369.26 363.3 369.94 363.8 370.68 364.3 371.47 364.8 372.3 365.3 373.18 365.8 374.09 366.3 375.02 366.8 375.96 367.3 376.91 367.8 377.84 368.3 378.76 368.8 379.65 369.3 380.5 369.8 381.3 370.3 382.05 370.8 382.74 371.3 383.37 371.8 383.94 372.3 384.45 372.8 384.9 373.3 385.29 373.8 385.62 374.3 385.9 374.8 386.13 375.3 386.31 375.8 386.46 376.3 386.59 376.8 386.69 377.3 386.77 377.8 386.84 378.3 386.9 378.8 386.95 379.3 386.99 379.8 387.03 380.3 387.06 612.8 387.07L612.8 387.07Z" fill="#FF0000"/>
<path d="M278.8 387.07 325.3 387.07 325.8 387.05 326.3 387.03 326.8 387.01 327.3 386.99 327.8 386.97 328.3 386.94 328.8 386.92 329.3 386.89 329.8 386.87 330.3 386.84 330.8 386.81 331.3 386.77 331.8 386.74 332.3 386.7 332.8 386.65 333.3 386.6 333.8 386.54 334.3 386.48 334.8 386.4 335.3 386.32 335.8 386.23 336.3 386.13 336.8 386.02 337.3 385.9 337.8 385.78 338.3 385.65 338.8 385.52 339.3 385.38 339.8 385.24 340.3 385.09 340.8 384.95 341.3 384.8 341.8 384.66 342.3 384.51 342.8 384.34 343.3 384.16 343.8 383.95 344.3 383.71 344.8 383.44 345.3 383.11 345.8 382.73 346.3 382.3 346.8 381.81 347.3 381.25 347.8 380.63 348.3 379.94 348.8 379.18 349.3 378.35 349.8 377.47 350.3 376.54 350.8 375.59 351.3 374.65 351.8 373.72 352.3 372.83 352.8 371.99 353.3 371.21 353.8 370.5 354.3 369.85 354.8 369.26 355.3 368.72 355.8 368.24 356.3 367.81 356.8 367.45 357.3 367.14 357.8 366.91 358.3 366.75 358.8 366.68 359.3 366.7 359.8 366.81 360.3 367.01 360.8 367.3 361.3 367.67 361.8 368.12 362.3 368.66 362.8 369.26 363.3 369.94 363.8 370.68 364.3 371.47 364.8 372.3 365.3 373.18 365.8 374.09 366.3 375.02 366.8 375.96 367.3 376.91 367.8 377.84 368.3 378.76 368.8 379.65 369.3 380.5 369.8 381.3 370.3 382.05 370.8 382.74 371.3 383.37 371.8 383.94 372.3 384.45 372.8 384.9 373.3 385.29 373.8 385.62 374.3 385.9 374.8 386.13 375.3 386.31 375.8 386.46 376.3 386.59 376.8 386.69 377.3 386.77 377.8 386.84 378.3 386.9 378.8 386.95 379.3 386.99 379.8 387.03 380.3 387.06 612.8 387.07" fill="none" stroke="#000" stroke-width="1.05" stroke-linejoin="round"/>
<path d="M278.8 402.52L278.8 402.52 328.3 402.52 328.8 402.51 329.3 402.5 329.8 402.48 330.3 402.46 330.8 402.43 331.3 402.4 331.8 402.35 332.3 402.3 332.8 402.24 333.3 402.16 333.8 402.08 334.3 402 334.8 401.91 335.3 401.81 335.8 401.72 336.3 401.62 336.8 401.53 337.3 401.43 337.8 401.34 338.3 401.26 338.8 401.18 339.3 401.1 339.8 401.02 340.3 400.94 340.8 400.86 341.3 400.78 341.8 400.69 342.3 400.59 342.8 400.48 343.3 400.36 343.8 400.23 344.3 400.08 344.8 399.91 345.3 399.72 345.8 399.51 346.3 399.26 346.8 398.98 347.3 398.67 347.8 398.31 348.3 397.91 348.8 397.46 349.3 396.96 349.8 396.42 350.3 395.84 350.8 395.22 351.3 394.56 351.8 393.86 352.3 393.14 352.8 392.39 353.3 391.63 353.8 390.87 354.3 390.11 354.8 389.38 355.3 388.67 355.8 388 356.3 387.37 356.8 386.77 357.3 386.22 357.8 385.71 358.3 385.24 358.8 384.8 359.3 384.41 359.8 384.05 360.3 383.74 360.8 383.47 361.3 383.25 361.8 383.09 362.3 382.98 362.8 382.92 363.3 382.94 363.8 383.02 364.3 383.18 364.8 383.43 365.3 383.77 365.8 384.22 366.3 384.79 366.8 385.47 367.3 386.25 367.8 387.12 368.3 388.05 368.8 389.02 369.3 390.01 369.8 391 370.3 391.98 370.8 392.93 371.3 393.85 371.8 394.74 372.3 395.59 372.8 396.41 373.3 397.18 373.8 397.91 374.3 398.58 374.8 399.2 375.3 399.76 375.8 400.26 376.3 400.69 376.8 401.06 377.3 401.36 377.8 401.61 378.3 401.81 378.8 401.96 379.3 402.08 379.8 402.17 380.3 402.24 380.8 402.3 381.3 402.35 381.8 402.39 382.3 402.43 382.8 402.48 383.3 402.52 612.8 402.52L612.8 402.52Z" fill="#FF0000"/>
<path d="M278.8 402.52 328.3 402.52 328.8 402.51 329.3 402.5 329.8 402.48 330.3 402.46 330.8 402.43 331.3 402.4 331.8 402.35 332.3 402.3 332.8 402.24 333.3 402.16 333.8 402.08 334.3 402 334.8 401.91 335.3 401.81 335.8 401.72 336.3 401.62 336.8 401.53 337.3 401.43 337.8 401.34 338.3 401.26 338.8 401.18 339.3 401.1 339.8 401.02 340.3 400.94 340.8 400.86 341.3 400.78 341.8 400.69 342.3 400.59 342.8 400.48 343.3 400.36 343.8 400.23 344.3 400.08 344.8 399.91 345.3 399.72 345.8 399.51 346.3 399.26 346.8 398.98 347.3 398.67 347.8 398.31 348.3 397.91 348.8 397.46 349.3 396.96 349.8 396.42 350.3 395.84 350.8 395.22 351.3 394.56 351.8 393.86 352.3 393.14 352.8 392.39 353.3 391.63 353.8 390.87 354.3 390.11 354.8 389.38 355.3 388.67 355.8 388 356.3 387.37 356.8 386.77 357.3 386.22 357.8 385.71 358.3 385.24 358.8 384.8 359.3 384.41 359.8 384.05 360.3 383.74 360.8 383.47 361.3 383.25 361.8 383.09 362.3 382.98 362.8 382.92 363.3 382.94 363.8 383.02 364.3 383.18 364.8 383.43 365.3 383.77 365.8 384.22 366.3 384.79 366.8 385.47 367.3 386.25 367.8 387.12 368.3 388.05 368.8 389.02 369.3 390.01 369.8 391 370.3 391.98 370.8 392.93 371.3 393.85 371.8 394.74 372.3 395.59 372.8 396.41 373.3 397.18 373.8 397.91 374.3 398.58 374.8 399.2 375.3 399.76 375.8 400.26 376.3 400.69 376.8 401.06 377.3 401.36 377.8 401.61 378.3 401.81 378.8 401.96 379.3 402.08 379.8 402.17 380.3 402.24 380.8 402.3 381.3 402.35 381.8 402.39 382.3 402.43 382.8 402.48 383.3 402.52 612.8 402.52" fill="none" stroke="#000" stroke-width="1.05" stroke-linejoin="round"/>
<path d="M278.8 417.98L278.8 417.98 325.3 417.98 325.8 417.95 326.3 417.92 326.8 417.88 327.3 417.85 327.8 417.81 328.3 417.78 328.8 417.74 329.3 417.71 329.8 417.67 330.3 417.64 330.8 417.61 331.3 417.58 331.8 417.55 332.3 417.51 332.8 417.47 333.3 417.43 333.8 417.39 334.3 417.34 334.8 417.28 335.3 417.22 335.8 417.15 336.3 417.07 336.8 416.99 337.3 416.9 337.8 416.81 338.3 416.7 338.8 416.6 339.3 416.49 339.8 416.37 340.3 416.25 340.8 416.13 341.3 416.01 341.8 415.88 342.3 415.75 342.8 415.6 343.3 415.45 343.8 415.27 344.3 415.07 344.8 414.85 345.3 414.59 345.8 414.3 346.3 413.97 346.8 413.61 347.3 413.21 347.8 412.77 348.3 412.3 348.8 411.79 349.3 411.25 349.8 410.67 350.3 410.06 350.8 409.41 351.3 408.71 351.8 407.97 352.3 407.19 352.8 406.37 353.3 405.52 353.8 404.65 354.3 403.79 354.8 402.94 355.3 402.13 355.8 401.38 356.3 400.69 356.8 400.08 357.3 399.54 357.8 399.07 358.3 398.65 358.8 398.29 359.3 397.98 359.8 397.71 360.3 397.5 360.8 397.36 361.3 397.29 361.8 397.31 362.3 397.43 362.8 397.66 363.3 398.02 363.8 398.51 364.3 399.14 364.8 399.91 365.3 400.81 365.8 401.84 366.3 402.95 366.8 404.12 367.3 405.31 367.8 406.5 368.3 407.66 368.8 408.78 369.3 409.84 369.8 410.84 370.3 411.78 370.8 412.64 371.3 413.42 371.8 414.13 372.3 414.75 372.8 415.3 373.3 415.78 373.8 416.19 374.3 416.54 374.8 416.83 375.3 417.07 375.8 417.26 376.3 417.41 376.8 417.53 377.3 417.62 377.8 417.69 378.3 417.74 378.8 417.78 379.3 417.82 379.8 417.86 380.3 417.9 380.8 417.94 381.3 417.97 612.8 417.98L612.8 417.98Z" fill="#00FF00"/>
<path d="M278.8 417.98 325.3 417.98 325.8 417.95 326.3 417.92 326.8 417.88 327.3 417.85 327.8 417.81 328.3 417.78 328.8 417.74 329.3 417.71 329.8 417.67 330.3 417.64 330.8 417.61 331.3 417.58 331.8 417.55 332.3 417.51 332.8 417.47 333.3 417.43 333.8 417.39 334.3 417.34 334.8 417.28 335.3 417.22 335.8 417.15 336.3 417.07 336.8 416.99 337.3 416.9 337.8 416.81 338.3 416.7 338.8 416.6 339.3 416.49 339.8 416.37 340.3 416.25 340.8 416.13 341.3 416.01 341.8 415.88 342.3 415.75 342.8 415.6 343.3 415.45 343.8 415.27 344.3 415.07 344.8 414.85 345.3 414.59 345.8 414.3 346.3 413.97 346.8 413.61 347.3 413.21 347.8 412.77 348.3 412.3 348.8 411.79 349.3 411.25 349.8 410.67 350.3 410.06 350.8 409.41 351.3 408.71 351.8 407.97 352.3 407.19 352.8 406.37 353.3 405.52 353.8 404.65 354.3 403.79 354.8 402.94 355.3 402.13 355.8 401.38 356.3 400.69 356.8 400.08 357.3 399.54 357.8 399.07 358.3 398.65 358.8 398.29 359.3 397.98 359.8 397.71 360.3 397.5 360.8 397.36 361.3 397.29 361.8 397.31 362.3 397.43 362.8 397.66 363.3 398.02 363.8 398.51 364.3 399.14 364.8 399.91 365.3 400.81 365.8 401.84 366.3 402.95 366.8 404.12 367.3 405.31 367.8 406.5 368.3 407.66 368.8 408.78 369.3 409.84 369.8 410.84 370.3 411.78 370.8 412.64 371.3 413.42 371.8 414.13 372.3 414.75 372.8 415.3 373.3 415.78 373.8 416.19 374.3 416.54 374.8 416.83 375.3 417.07 375.8 417.26 376.3 417.41 376.8 417.53 377.3 417.62 377.8 417.69 378.3 417.74 378.8 417.78 379.3 417.82 379.8 417.86 380.3 417.9 380.8 417.94 381.3 417.97 612.8 417.98" fill="none" stroke="#000" stroke-width="1.05" stroke-linejoin="round"/>
<path d="M278.8 433.44L278.8 433.44 325.3 433.44 325.8 433.41 326.3 433.38 326.8 433.34 327.3 433.31 327.8 433.27 328.3 433.24 328.8 433.2 329.3 433.17 329.8 433.13 330.3 433.09 330.8 433.05 331.3 433.01 331.8 432.97 332.3 432.92 332.8 432.88 333.3 432.83 333.8 432.77 334.3 432.71 334.8 432.65 335.3 432.58 335.8 432.5 336.3 432.42 336.8 432.34 337.3 432.25 337.8 432.15 338.3 432.05 338.8 431.94 339.3 431.83 339.8 431.72 340.3 431.6 340.8 431.49 341.3 431.36 341.8 431.24 342.3 431.1 342.8 430.96 343.3 430.79 343.8 430.61 344.3 430.39 344.8 430.14 345.3 429.86 345.8 429.53 346.3 429.15 346.8 428.74 347.3 428.28 347.8 427.78 348.3 427.24 348.8 426.67 349.3 426.07 349.8 425.43 350.3 424.78 350.8 424.1 351.3 423.41 351.8 422.71 352.3 422.01 352.8 421.32 353.3 420.63 353.8 419.96 354.3 419.31 354.8 418.69 355.3 418.1 355.8 417.55 356.3 417.04 356.8 416.58 357.3 416.16 357.8 415.77 358.3 415.43 358.8 415.12 359.3 414.83 359.8 414.58 360.3 414.36 360.8 414.18 361.3 414.03 361.8 413.94 362.3 413.91 362.8 413.95 363.3 414.05 363.8 414.24 364.3 414.53 364.8 414.91 365.3 415.41 365.8 416.02 366.3 416.75 366.8 417.58 367.3 418.5 367.8 419.48 368.3 420.49 368.8 421.52 369.3 422.54 369.8 423.53 370.3 424.5 370.8 425.44 371.3 426.33 371.8 427.18 372.3 427.98 372.8 428.73 373.3 429.42 373.8 430.05 374.3 430.62 374.8 431.13 375.3 431.58 375.8 431.96 376.3 432.28 376.8 432.53 377.3 432.74 377.8 432.89 378.3 433.01 378.8 433.1 379.3 433.17 379.8 433.22 380.3 433.27 380.8 433.31 381.3 433.35 381.8 433.39 382.3 433.43 612.8 433.44L612.8 433.44Z" fill="#FF0000"/>
<path d="M278.8 433.44 325.3 433.44 325.8 433.41 326.3 433.38 326.8 433.34 327.3 433.31 327.8 433.27 328.3 433.24 328.8 433.2 329.3 433.17 329.8 433.13 330.3 433.09 330.8 433.05 331.3 433.01 331.8 432.97 332.3 432.92 332.8 432.88 333.3 432.83 333.8 432.77 334.3 432.71 334.8 432.65 335.3 432.58 335.8 432.5 336.3 432.42 336.8 432.34 337.3 432.25 337.8 432.15 338.3 432.05 338.8 431.94 339.3 431.83 339.8 431.72 340.3 431.6 340.8 431.49 341.3 431.36 341.8 431.24 342.3 431.1 342.8 430.96 343.3 430.79 343.8 430.61 344.3 430.39 344.8 430.14 345.3 429.86 345.8 429.53 346.3 429.15 346.8 428.74 347.3 428.28 347.8 427.78 348.3 427.24 348.8 426.67 349.3 426.07 349.8 425.43 350.3 424.78 350.8 424.1 351.3 423.41 351.8 422.71 352.3 422.01 352.8 421.32 353.3 420.63 353.8 419.96 354.3 419.31 354.8 418.69 355.3 418.1 355.8 417.55 356.3 417.04 356.8 416.58 357.3 416.16 357.8 415.77 358.3 415.43 358.8 415.12 359.3 414.83 359.8 414.58 360.3 414.36 360.8 414.18 361.3 414.03 361.8 413.94 362.3 413.91 362.8 413.95 363.3 414.05 363.8 414.24 364.3 414.53 364.8 414.91 365.3 415.41 365.8 416.02 366.3 416.75 366.8 417.58 367.3 418.5 367.8 419.48 368.3 420.49 368.8 421.52 369.3 422.54 369.8 423.53 370.3 424.5 370.8 425.44 371.3 426.33 371.8 427.18 372.3 427.98 372.8 428.73 373.3 429.42 373.8 430.05 374.3 430.62 374.8 431.13 375.3 431.58 375.8 431.96 376.3 432.28 376.8 432.53 377.3 432.74 377.8 432.89 378.3 433.01 378.8 433.1 379.3 433.17 379.8 433.22 380.3 433.27 380.8 433.31 381.3 433.35 381.8 433.39 382.3 433.43 612.8 433.44" fill="none" stroke="#000" stroke-width="1.05" stroke-linejoin="round"/>
<path d="M278.8 448.89L278.8 448.89 327.3 448.89 327.8 448.87 328.3 448.83 328.8 448.8 329.3 448.77 329.8 448.74 330.3 448.7 330.8 448.67 331.3 448.64 331.8 448.61 332.3 448.58 332.8 448.55 333.3 448.52 333.8 448.49 334.3 448.46 334.8 448.42 335.3 448.38 335.8 448.34 336.3 448.29 336.8 448.24 337.3 448.17 337.8 448.1 338.3 448.03 338.8 447.94 339.3 447.84 339.8 447.73 340.3 447.61 340.8 447.48 341.3 447.33 341.8 447.18 342.3 447 342.8 446.82 343.3 446.61 343.8 446.38 344.3 446.11 344.8 445.81 345.3 445.46 345.8 445.05 346.3 444.59 346.8 444.07 347.3 443.49 347.8 442.85 348.3 442.15 348.8 441.4 349.3 440.59 349.8 439.74 350.3 438.84 350.8 437.92 351.3 436.98 351.8 436.04 352.3 435.12 352.8 434.22 353.3 433.36 353.8 432.55 354.3 431.79 354.8 431.08 355.3 430.43 355.8 429.83 356.3 429.28 356.8 428.8 357.3 428.37 357.8 428.02 358.3 427.74 358.8 427.57 359.3 427.5 359.8 427.54 360.3 427.69 360.8 427.97 361.3 428.36 361.8 428.86 362.3 429.46 362.8 430.17 363.3 430.97 363.8 431.84 364.3 432.78 364.8 433.78 365.3 434.81 365.8 435.88 366.3 436.95 366.8 438.02 367.3 439.08 367.8 440.11 368.3 441.11 368.8 442.04 369.3 442.91 369.8 443.71 370.3 444.43 370.8 445.08 371.3 445.65 371.8 446.16 372.3 446.61 372.8 447 373.3 447.34 373.8 447.62 374.3 447.87 374.8 448.07 375.3 448.24 375.8 448.38 376.3 448.49 376.8 448.58 377.3 448.66 377.8 448.71 378.3 448.76 378.8 448.8 379.3 448.83 379.8 448.86 380.3 448.89 612.8 448.89L612.8 448.89Z" fill="#FF0000"/>
<path d="M278.8 448.89 327.3 448.89 327.8 448.87 328.3 448.83 328.8 448.8 329.3 448.77 329.8 448.74 330.3 448.7 330.8 448.67 331.3 448.64 331.8 448.61 332.3 448.58 332.8 448.55 333.3 448.52 333.8 448.49 334.3 448.46 334.8 448.42 335.3 448.38 335.8 448.34 336.3 448.29 336.8 448.24 337.3 448.17 337.8 448.1 338.3 448.03 338.8 447.94 339.3 447.84 339.8 447.73 340.3 447.61 340.8 447.48 341.3 447.33 341.8 447.18 342.3 447 342.8 446.82 343.3 446.61 343.8 446.38 344.3 446.11 344.8 445.81 345.3 445.46 345.8 445.05 346.3 444.59 346.8 444.07 347.3 443.49 347.8 442.85 348.3 442.15 348.8 441.4 349.3 440.59 349.8 439.74 350.3 438.84 350.8 437.92 351.3 436.98 351.8 436.04 352.3 435.12 352.8 434.22 353.3 433.36 353.8 432.55 354.3 431.79 354.8 431.08 355.3 430.43 355.8 429.83 356.3 429.28 356.8 428.8 357.3 428.37 357.8 428.02 358.3 427.74 358.8 427.57 359.3 427.5 359.8 427.54 360.3 427.69 360.8 427.97 361.3 428.36 361.8 428.86 362.3 429.46 362.8 430.17 363.3 430.97 363.8 431.84 364.3 432.78 364.8 433.78 365.3 434.81 365.8 435.88 366.3 436.95 366.8 438.02 367.3 439.08 367.8 440.11 368.3 441.11 368.8 442.04 369.3 442.91 369.8 443.71 370.3 444.43 370.8 445.08 371.3 445.65 371.8 446.16 372.3 446.61 372.8 447 373.3 447.34 373.8 447.62 374.3 447.87 374.8 448.07 375.3 448.24 375.8 448.38 376.3 448.49 376.8 448.58 377.3 448.66 377.8 448.71 378.3 448.76 378.8 448.8 379.3 448.83 379.8 448.86 380.3 448.89 612.8 448.89" fill="none" stroke="#000" stroke-width="1.05" stroke-linejoin="round"/>
<path d="M278.8 464.34L278.8 464.34 334.3 464.34 334.8 464.33 335.3 464.3 335.8 464.28 336.3 464.26 336.8 464.24 337.3 464.22 337.8 464.2 338.3 464.19 338.8 464.17 339.3 464.15 339.8 464.11 340.3 464.06 340.8 463.99 341.3 463.88 341.8 463.75 342.3 463.57 342.8 463.35 343.3 463.08 343.8 462.76 344.3 462.38 344.8 461.93 345.3 461.42 345.8 460.83 346.3 460.16 346.8 459.42 347.3 458.61 347.8 457.73 348.3 456.78 348.8 455.77 349.3 454.7 349.8 453.59 350.3 452.43 350.8 451.25 351.3 450.05 351.8 448.86 352.3 447.67 352.8 446.52 353.3 445.41 353.8 444.35 354.3 443.36 354.8 442.44 355.3 441.62 355.8 440.89 356.3 440.29 356.8 439.83 357.3 439.55 357.8 439.49 358.3 439.64 358.8 440.01 359.3 440.58 359.8 441.32 360.3 442.21 360.8 443.22 361.3 444.32 361.8 445.49 362.3 446.7 362.8 447.95 363.3 449.19 363.8 450.42 364.3 451.63 364.8 452.8 365.3 453.92 365.8 455 366.3 456.02 366.8 456.99 367.3 457.9 367.8 458.75 368.3 459.53 368.8 460.24 369.3 460.89 369.8 461.46 370.3 461.97 370.8 462.41 371.3 462.77 371.8 463.08 372.3 463.33 372.8 463.53 373.3 463.7 373.8 463.83 374.3 463.93 374.8 464.01 375.3 464.08 375.8 464.14 376.3 464.19 376.8 464.24 377.3 464.27 377.8 464.31 378.3 464.34 612.8 464.34L612.8 464.34Z" fill="#C8FF00"/>
<path d="M278.8 464.34 334.3 464.34 334.8 464.33 335.3 464.3 335.8 464.28 336.3 464.26 336.8 464.24 337.3 464.22 337.8 464.2 338.3 464.19 338.8 464.17 339.3 464.15 339.8 464.11 340.3 464.06 340.8 463.99 341.3 463.88 341.8 463.75 342.3 463.57 342.8 463.35 343.3 463.08 343.8 462.76 344.3 462.38 344.8 461.93 345.3 461.42 345.8 460.83 346.3 460.16 346.8 459.42 347.3 458.61 347.8 457.73 348.3 456.78 348.8 455.77 349.3 454.7 349.8 453.59 350.3 452.43 350.8 451.25 351.3 450.05 351.8 448.86 352.3 447.67 352.8 446.52 353.3 445.41 353.8 444.35 354.3 443.36 354.8 442.44 355.3 441.62 355.8 440.89 356.3 440.29 356.8 439.83 357.3 439.55 357.8 439.49 358.3 439.64 358.8 440.01 359.3 440.58 359.8 441.32 360.3 442.21 360.8 443.22 361.3 444.32 361.8 445.49 362.3 446.7 362.8 447.95 363.3 449.19 363.8 450.42 364.3 451.63 364.8 452.8 365.3 453.92 365.8 455 366.3 456.02 366.8 456.99 367.3 457.9 367.8 458.75 368.3 459.53 368.8 460.24 369.3 460.89 369.8 461.46 370.3 461.97 370.8 462.41 371.3 462.77 371.8 463.08 372.3 463.33 372.8 463.53 373.3 463.7 373.8 463.83 374.3 463.93 374.8 464.01 375.3 464.08 375.8 464.14 376.3 464.19 376.8 464.24 377.3 464.27 377.8 464.31 378.3 464.34 612.8 464.34" fill="none" stroke="#000" stroke-width="1.05" stroke-linejoin="round"/>
</g>
<path d="M262 0.8H630.1" stroke="#000" stroke-opacity="0.2" stroke-width="1.6" fill="none"/>
<path d="M262.65 0.6V474" stroke="#000" stroke-opacity="0.38" stroke-width="1.4" fill="none"/>
<path d="M629.4 0.6V474.15M262 473.4H630.15" stroke="#000" stroke-opacity="0.64" stroke-width="1.5" fill="none"/>
<path d="M260.0 16.15H263.0M260.0 31.6H263.0M260.0 47.06H263.0M260.0 62.52H263.0M260.0 77.97H263.0M260.0 93.43H263.0M260.0 108.88H263.0M260.0 124.34H263.0M260.0 139.79H263.0M260.0 155.25H263.0M260.0 170.7H263.0M260.0 186.16H263.0M260.0 201.61H263.0M260.0 217.06H263.0M260.0 232.52H263.0M260.0 247.97H263.0M260.0 263.43H263.0M260.0 278.88H263.0M260.0 294.34H263.0M260.0 309.79H263.0M260.0 325.25H263.0M260.0 340.7H263.0M260.0 356.16H263.0M260.0 371.61H263.0M260.0 387.07H263.0M260.0 402.52H263.0M260.0 417.98H263.0M260.0 433.44H263.0M260.0 448.89H263.0M260.0 464.34H263.0M292 473.5V476.5M378.6 473.5V476.5M465.2 473.5V476.5M551.8 473.5V476.5" stroke="#000" stroke-opacity="0.6" stroke-width="0.9" fill="none"/>
<g font-family="Liberation Sans, sans-serif" font-size="12.33" fill="#000" stroke="#000" stroke-width="0.22" text-anchor="end">
<text x="257.8" y="20.45">Drug metabolism - cytochrome P450</text>
<text x="257.8" y="35.9">Pentose phosphate pathway</text>
<text x="257.8" y="51.36">Drug metabolism - other enzymes</text>
<text x="257.8" y="66.81">Metabolism of xenobiotics by cytochrome P450</text>
<text x="257.8" y="82.27">Tyrosine metabolism</text>
<text x="257.8" y="97.73">Nitrogen metabolism</text>
<text x="257.8" y="113.18">Glycine, serine and threonine metabolism</text>
<text x="257.8" y="128.64">Glycerolipid metabolism</text>
<text x="257.8" y="144.09">Amino sugar and nucleotide sugar metabolism</text>
<text x="257.8" y="159.55">Phagosome</text>
<text x="257.8" y="175">MicroRNAs in cancer</text>
<text x="257.8" y="190.46">SNARE interactions in vesicular transport</text>
<text x="257.8" y="205.91">Basal transcription factors</text>
<text x="257.8" y="221.37">Spliceosome</text>
<text x="257.8" y="236.82">Hedgehog signaling pathway - fly</text>
<text x="257.8" y="252.28">Various types of N-glycan biosynthesis</text>
<text x="257.8" y="267.73">Hedgehog signaling pathway</text>
<text x="257.8" y="283.19">Proteasome</text>
<text x="257.8" y="298.64">Vibrio cholerae infection</text>
<text x="257.8" y="314.09">Protein processing in endoplasmic reticulum</text>
<text x="257.8" y="329.55">Retrograde endocannabinoid signaling</text>
<text x="257.8" y="345">Protein export</text>
<text x="257.8" y="360.46">Parkinson&#x27;s disease</text>
<text x="257.8" y="375.91">N-Glycan biosynthesis</text>
<text x="257.8" y="391.37">Alzheimer&#x27;s disease</text>
<text x="257.8" y="406.82">Non-alcoholic fatty liver disease (NAFLD)</text>
<text x="257.8" y="422.28">Thermogenesis</text>
<text x="257.8" y="437.74">Huntington&#x27;s disease</text>
<text x="257.8" y="453.19">Oxidative phosphorylation</text>
<text x="257.8" y="468.64">Ribosome</text>
</g>
<g font-family="Liberation Sans, sans-serif" font-size="12.33" fill="#000" stroke="#000" stroke-width="0.22" text-anchor="middle">
<text x="292.6" y="490.6">-2</text>
<text x="378.9" y="490.6">0</text>
<text x="465.5" y="490.6">2</text>
<text x="552.1" y="490.6">4</text>
</g>
<text x="432.2" y="510.7" font-family="Liberation Sans, sans-serif" font-weight="bold" font-size="16.1" text-anchor="middle" fill="#000">Log2 (Red/Dark)</text>
<defs><linearGradient id="lg" x1="0" y1="0" x2="0" y2="1"><stop offset="0" stop-color="#00FF00"/><stop offset="0.25" stop-color="#8CFF00"/><stop offset="0.5" stop-color="#FFFF00"/><stop offset="0.75" stop-color="#FF9000"/><stop offset="1" stop-color="#FF0000"/></linearGradient></defs>
<rect x="640" y="196.6" width="17.1" height="86.2" fill="url(#lg)"/>
<path d="M640 280.8h3.4M657.1 280.8h-3.4M640 263.6h3.4M657.1 263.6h-3.4M640 246.4h3.4M657.1 246.4h-3.4M640 229.2h3.4M657.1 229.2h-3.4M640 212h3.4M657.1 212h-3.4" stroke="#fff" stroke-width="0.6" fill="none"/>
<text x="640" y="193.1" font-family="Liberation Sans, sans-serif" font-size="10.7" fill="#000" stroke="#000" stroke-width="0.2">p.adjust</text>
<g font-family="Liberation Sans, sans-serif" font-size="9.1" fill="#000" stroke="#000" stroke-width="0.15">
<text x="661.5" y="284">0.210</text>
<text x="661.5" y="267">0.215</text>
<text x="661.5" y="250">0.220</text>
<text x="661.5" y="233">0.225</text>
<text x="661.5" y="216">0.230</text>
</g>
</svg>
</body></html>
